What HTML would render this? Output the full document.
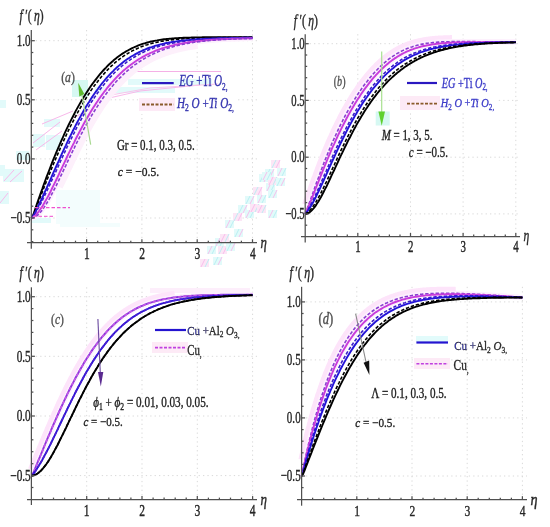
<!DOCTYPE html>
<html><head><meta charset="utf-8"><style>
html,body{margin:0;padding:0;background:#fff;width:550px;height:527px;overflow:hidden}
svg{display:block;filter:contrast(1)}
text{font-family:"Liberation Serif",serif}
</style></head><body>
<svg width="550" height="527" viewBox="0 0 550 527" font-family="Liberation Serif, serif">
<rect width="550" height="527" fill="#fff"/>
<g stroke="#d9d9d9" stroke-width="1" stroke-dasharray="1.3 3.1"><line x1="86.6" y1="30.0" x2="86.6" y2="242.7"/><line x1="141.9" y1="30.0" x2="141.9" y2="242.7"/><line x1="197.2" y1="30.0" x2="197.2" y2="242.7"/><line x1="252.5" y1="30.0" x2="252.5" y2="242.7"/><line x1="31.3" y1="218.0" x2="257.0" y2="218.0"/><line x1="31.3" y1="158.9" x2="257.0" y2="158.9"/><line x1="31.3" y1="99.8" x2="257.0" y2="99.8"/><line x1="31.3" y1="40.7" x2="257.0" y2="40.7"/></g>
<rect x="138" y="70" width="98" height="44" fill="#fff"/>
<g stroke="#d9d9d9" stroke-width="1" stroke-dasharray="1.3 3.1"><line x1="357.8" y1="34.2" x2="357.8" y2="236.5"/><line x1="410.5" y1="34.2" x2="410.5" y2="236.5"/><line x1="463.1" y1="34.2" x2="463.1" y2="236.5"/><line x1="515.8" y1="34.2" x2="515.8" y2="236.5"/><line x1="305.2" y1="213.9" x2="520.0" y2="213.9"/><line x1="305.2" y1="157.2" x2="520.0" y2="157.2"/><line x1="305.2" y1="100.4" x2="520.0" y2="100.4"/><line x1="305.2" y1="43.7" x2="520.0" y2="43.7"/></g>
<rect x="403" y="72" width="94" height="40" fill="#fff"/>
<g stroke="#d9d9d9" stroke-width="1" stroke-dasharray="1.3 3.1"><line x1="86.7" y1="287.3" x2="86.7" y2="499.6"/><line x1="142.0" y1="287.3" x2="142.0" y2="499.6"/><line x1="197.3" y1="287.3" x2="197.3" y2="499.6"/><line x1="252.6" y1="287.3" x2="252.6" y2="499.6"/><line x1="31.4" y1="475.6" x2="257.0" y2="475.6"/><line x1="31.4" y1="416.0" x2="257.0" y2="416.0"/><line x1="31.4" y1="356.3" x2="257.0" y2="356.3"/><line x1="31.4" y1="296.7" x2="257.0" y2="296.7"/></g>
<g stroke="#d9d9d9" stroke-width="1" stroke-dasharray="1.3 3.1"><line x1="356.8" y1="286.8" x2="356.8" y2="499.7"/><line x1="412.0" y1="286.8" x2="412.0" y2="499.7"/><line x1="467.2" y1="286.8" x2="467.2" y2="499.7"/><line x1="522.4" y1="286.8" x2="522.4" y2="499.7"/><line x1="301.6" y1="476.0" x2="527.0" y2="476.0"/><line x1="301.6" y1="417.9" x2="527.0" y2="417.9"/><line x1="301.6" y1="359.9" x2="527.0" y2="359.9"/><line x1="301.6" y1="301.9" x2="527.0" y2="301.9"/></g>
<g><rect x="0" y="165" width="5" height="11" fill="#e2fafa"/><rect x="3" y="169" width="21" height="13" fill="#e2fafa"/><rect x="0" y="191" width="9" height="13" fill="#e2fafa"/><rect x="0" y="100" width="6" height="8" fill="#e2fafa"/><path d="M4,181 L14,170" fill="none" stroke="#f8b8ea" stroke-width="1.0"/><path d="M10,182 L22,171" fill="none" stroke="#f8b8ea" stroke-width="1.0"/><path d="M0,203 L8,193" fill="none" stroke="#f8b8ea" stroke-width="1.0"/><rect x="44" y="119" width="16" height="8" fill="#e2fafa"/><rect x="46" y="135" width="15" height="15" fill="#e2fafa"/><rect x="33" y="134" width="12" height="13" fill="#e2fafa"/><rect x="16" y="151" width="13" height="9" fill="#e2fafa"/><rect x="72" y="80" width="16" height="17" fill="#d6f8f2"/><path d="M33,143 L60,122" fill="none" stroke="#f8b8ea" stroke-width="1.0"/><path d="M42,124 L73,111" fill="none" stroke="#f8b8ea" stroke-width="1.0"/><path d="M36,150 L62,131" fill="none" stroke="#f8b8ea" stroke-width="1.0"/><path d="M73,118 L100,104" fill="none" stroke="#f8b8ea" stroke-width="1.2"/><path d="M131,71.5 L221,71.5" fill="none" stroke="#f5b0e6" stroke-width="1.0"/><rect x="128" y="79" width="84" height="6" fill="#e2fafa"/><rect x="95" y="87" width="80" height="6" fill="#e2fafa"/><path d="M96,101 L140,91 L200,85" fill="none" stroke="#f8b8ea" stroke-width="1.0"/><path d="M100,97 L150,88 L218,84" fill="none" stroke="#f8c4ec" stroke-width="1.0"/><rect x="139" y="98" width="36" height="13" fill="#fdeaf6"/><rect x="31" y="218" width="20" height="5" fill="#e2fafa"/><rect x="56" y="190" width="44" height="34" fill="#f3fdfd"/><rect x="60" y="223" width="60" height="4" fill="#f3fdfd"/><rect x="200" y="259" width="9" height="8" fill="#fce6f6"/><path d="M201,267 L205,259" fill="none" stroke="#f8b8ea" stroke-width="0.9"/><path d="M205,267 L209,259" fill="none" stroke="#b4eef2" stroke-width="0.9"/><rect x="213" y="257" width="9" height="8" fill="#e2fafa"/><path d="M214,265 L218,257" fill="none" stroke="#b4eef2" stroke-width="0.9"/><path d="M218,265 L222,257" fill="none" stroke="#f8b8ea" stroke-width="0.9"/><rect x="207" y="246" width="9" height="8" fill="#e2fafa"/><path d="M208,254 L212,246" fill="none" stroke="#f8b8ea" stroke-width="0.9"/><path d="M212,254 L216,246" fill="none" stroke="#b4eef2" stroke-width="0.9"/><rect x="218" y="246" width="9" height="8" fill="#fce6f6"/><path d="M219,254 L223,246" fill="none" stroke="#b4eef2" stroke-width="0.9"/><path d="M223,254 L227,246" fill="none" stroke="#f8b8ea" stroke-width="0.9"/><rect x="215" y="238" width="9" height="8" fill="#e2fafa"/><path d="M216,246 L220,238" fill="none" stroke="#f8b8ea" stroke-width="0.9"/><path d="M220,246 L224,238" fill="none" stroke="#b4eef2" stroke-width="0.9"/><rect x="226" y="243" width="9" height="8" fill="#e2fafa"/><path d="M227,251 L231,243" fill="none" stroke="#b4eef2" stroke-width="0.9"/><path d="M231,251 L235,243" fill="none" stroke="#f8b8ea" stroke-width="0.9"/><rect x="220" y="234" width="9" height="8" fill="#fce6f6"/><path d="M221,242 L225,234" fill="none" stroke="#f8b8ea" stroke-width="0.9"/><path d="M225,242 L229,234" fill="none" stroke="#b4eef2" stroke-width="0.9"/><rect x="234" y="229" width="9" height="8" fill="#e2fafa"/><path d="M235,237 L239,229" fill="none" stroke="#b4eef2" stroke-width="0.9"/><path d="M239,237 L243,229" fill="none" stroke="#f8b8ea" stroke-width="0.9"/><rect x="225" y="220" width="9" height="8" fill="#e2fafa"/><path d="M226,228 L230,220" fill="none" stroke="#f8b8ea" stroke-width="0.9"/><path d="M230,228 L234,220" fill="none" stroke="#b4eef2" stroke-width="0.9"/><rect x="233" y="213" width="9" height="8" fill="#fce6f6"/><path d="M234,221 L238,213" fill="none" stroke="#b4eef2" stroke-width="0.9"/><path d="M238,221 L242,213" fill="none" stroke="#f8b8ea" stroke-width="0.9"/><rect x="245" y="210" width="9" height="8" fill="#e2fafa"/><path d="M246,218 L250,210" fill="none" stroke="#f8b8ea" stroke-width="0.9"/><path d="M250,218 L254,210" fill="none" stroke="#b4eef2" stroke-width="0.9"/><rect x="238" y="205" width="9" height="8" fill="#e2fafa"/><path d="M239,213 L243,205" fill="none" stroke="#b4eef2" stroke-width="0.9"/><path d="M243,213 L247,205" fill="none" stroke="#f8b8ea" stroke-width="0.9"/><rect x="250" y="204" width="9" height="8" fill="#fce6f6"/><path d="M251,212 L255,204" fill="none" stroke="#f8b8ea" stroke-width="0.9"/><path d="M255,212 L259,204" fill="none" stroke="#b4eef2" stroke-width="0.9"/><rect x="245" y="196" width="9" height="8" fill="#e2fafa"/><path d="M246,204 L250,196" fill="none" stroke="#b4eef2" stroke-width="0.9"/><path d="M250,204 L254,196" fill="none" stroke="#f8b8ea" stroke-width="0.9"/><rect x="257" y="195" width="9" height="8" fill="#e2fafa"/><path d="M258,203 L262,195" fill="none" stroke="#f8b8ea" stroke-width="0.9"/><path d="M262,203 L266,195" fill="none" stroke="#b4eef2" stroke-width="0.9"/><rect x="253" y="187" width="9" height="8" fill="#fce6f6"/><path d="M254,195 L258,187" fill="none" stroke="#b4eef2" stroke-width="0.9"/><path d="M258,195 L262,187" fill="none" stroke="#f8b8ea" stroke-width="0.9"/><rect x="266" y="183" width="9" height="8" fill="#e2fafa"/><path d="M267,191 L271,183" fill="none" stroke="#f8b8ea" stroke-width="0.9"/><path d="M271,191 L275,183" fill="none" stroke="#b4eef2" stroke-width="0.9"/><rect x="259" y="174" width="9" height="8" fill="#e2fafa"/><path d="M260,182 L264,174" fill="none" stroke="#b4eef2" stroke-width="0.9"/><path d="M264,182 L268,174" fill="none" stroke="#f8b8ea" stroke-width="0.9"/><rect x="268" y="177" width="9" height="8" fill="#fce6f6"/><path d="M269,185 L273,177" fill="none" stroke="#f8b8ea" stroke-width="0.9"/><path d="M273,185 L277,177" fill="none" stroke="#b4eef2" stroke-width="0.9"/><rect x="265" y="169" width="9" height="8" fill="#e2fafa"/><path d="M266,177 L270,169" fill="none" stroke="#b4eef2" stroke-width="0.9"/><path d="M270,177 L274,169" fill="none" stroke="#f8b8ea" stroke-width="0.9"/><rect x="277" y="168" width="9" height="8" fill="#e2fafa"/><path d="M278,176 L282,168" fill="none" stroke="#f8b8ea" stroke-width="0.9"/><path d="M282,176 L286,168" fill="none" stroke="#b4eef2" stroke-width="0.9"/><rect x="271" y="160" width="9" height="8" fill="#fce6f6"/><path d="M272,168 L276,160" fill="none" stroke="#b4eef2" stroke-width="0.9"/><path d="M276,168 L280,160" fill="none" stroke="#f8b8ea" stroke-width="0.9"/><rect x="262" y="172" width="9" height="8" fill="#e2fafa"/><path d="M263,180 L267,172" fill="none" stroke="#f8b8ea" stroke-width="0.9"/><path d="M267,180 L271,172" fill="none" stroke="#b4eef2" stroke-width="0.9"/><rect x="268" y="190" width="9" height="8" fill="#e2fafa"/><path d="M269,198 L273,190" fill="none" stroke="#b4eef2" stroke-width="0.9"/><path d="M273,198 L277,190" fill="none" stroke="#f8b8ea" stroke-width="0.9"/><rect x="257" y="205" width="9" height="8" fill="#fce6f6"/><path d="M258,213 L262,205" fill="none" stroke="#f8b8ea" stroke-width="0.9"/><path d="M262,213 L266,205" fill="none" stroke="#b4eef2" stroke-width="0.9"/><rect x="276" y="178" width="9" height="8" fill="#e2fafa"/><path d="M277,186 L281,178" fill="none" stroke="#b4eef2" stroke-width="0.9"/><path d="M281,186 L285,178" fill="none" stroke="#f8b8ea" stroke-width="0.9"/><rect x="268" y="210" width="9" height="8" fill="#e2fafa"/><path d="M269,218 L273,210" fill="none" stroke="#f8b8ea" stroke-width="0.9"/><path d="M273,218 L277,210" fill="none" stroke="#b4eef2" stroke-width="0.9"/><rect x="400" y="96" width="40" height="14" fill="#fdeaf6"/><rect x="375.7" y="111.5" width="14" height="14" fill="#d6f8f2"/><rect x="150" y="288" width="100" height="5" fill="#fdeefb"/><rect x="152" y="342" width="36" height="11" fill="#fdeaf6"/><rect x="416" y="336" width="32" height="6" fill="#e2fbfb"/><rect x="414" y="358" width="36" height="11" fill="#fdeaf6"/></g>
<path d="M59.8 187.3L60.3 186.2L60.9 185.0L61.4 183.9L62.0 182.8L62.6 181.6L63.1 180.4L63.7 179.3L64.2 178.1L64.8 177.0L65.3 175.8L65.9 174.6L66.4 173.5L67.0 172.3L67.5 171.1L68.1 170.0L68.6 168.8L69.2 167.6L69.8 166.5L70.3 165.3L70.9 164.1L71.4 163.0L72.0 161.8L72.5 160.7L73.1 159.5L73.6 158.4L74.2 157.2L74.7 156.1L75.3 154.9L75.8 153.8L76.4 152.7L76.9 151.5L77.5 150.4L78.0 149.3L78.6 148.2L79.1 147.1L79.7 146.0L80.2 144.9L80.8 143.8L81.3 142.7L81.9 141.6L82.4 140.5L83.0 139.5L83.5 138.4L84.1 137.4L84.6 136.3L85.2 135.3L85.7 134.2L86.3 133.2L86.8 132.2L87.4 131.2L87.9 130.1L88.4 129.1L89.0 128.1L89.5 127.2L90.1 126.2L90.6 125.2L91.2 124.2L91.7 123.3L92.3 122.3L92.8 121.4L93.4 120.4L93.9 119.5L94.5 118.6L95.0 117.7L95.6 116.7L96.1 115.8L96.6 115.0L97.2 114.1L97.7 113.2L98.3 112.3L98.8 111.5L99.4 110.6L99.9 109.7L100.5 108.9L101.0 108.1L101.5 107.2L102.1 106.4L102.6 105.6L103.2 104.8L103.7 104.0L104.3 103.2L104.8 102.5L105.4 101.7L105.9 100.9L106.4 100.2L107.0 99.4L107.5 98.7L108.1 97.9L108.6 97.2L109.1 96.5L109.7 95.8L110.2 95.1L110.8 94.4L111.3 93.7L111.9 93.0L112.4 92.3L112.9 91.6L113.5 91.0L114.0 90.3L114.6 89.7L115.1 89.0L115.6 88.4L116.2 87.8L116.7 87.1L117.3 86.5L117.8 85.9L118.3 85.3L118.9 84.7L119.4 84.1L119.9 83.6L120.5 83.0L121.0 82.4L121.6 81.8L122.1 81.3L122.6 80.7L123.2 80.2L123.7 79.7L124.2 79.1L124.8 78.6L125.3 78.1L125.8 77.6L126.4 77.1L126.9 76.6L127.5 76.1L128.0 75.6L128.5 75.1L129.1 74.6L129.6 74.2L130.1 73.7L130.7 73.3L131.2 72.8L131.7 72.4L132.3 71.9L132.8 71.5L133.3 71.0L133.9 70.6L134.4 70.2L134.9 69.8L135.5 69.4L136.0 69.0L136.5 68.6L137.1 68.2L137.6 67.8L138.1 67.4L138.7 67.0L139.2 66.6L139.7 66.3L140.3 65.9L140.8 65.6L141.3 65.2L141.9 64.8L142.4 64.5L142.9 64.2L143.5 63.8L144.0 63.5L144.5 63.2L145.1 62.8L145.6 62.5L146.1 62.2L146.7 61.9L147.2 61.6L147.7 61.3L148.3 61.0L148.8 60.7L149.3 60.4L149.9 60.1L150.4 59.8L150.9 59.5L151.5 59.3L152.0 59.0L152.5 58.7L153.1 58.5L153.6 58.2L154.1 57.9L154.7 57.7L155.2 57.4L155.7 57.2L156.3 56.9L156.8 56.7L157.3 56.5L157.9 56.2L158.4 56.0L158.9 55.8L159.5 55.6L160.0 55.3L160.5 55.1L161.1 54.9L161.6 54.7L162.1 54.5L162.7 54.3L163.2 54.1L163.7 53.9L164.3 53.7L164.8 53.5L165.4 53.3L165.9 53.1L166.4 52.9L167.0 52.7L167.5 52.6L168.0 52.4L168.6 52.2L169.1 52.0L169.6 51.9L170.2 51.7L170.7 51.5L171.2 51.4L171.8 51.2L172.3 51.1L172.9 50.9L173.4 50.8L173.9 50.6L174.5 50.5L175.0 50.3L175.5 50.2L176.1 50.0L176.6 49.9L177.2 49.8L177.7 49.6L178.2 49.5L178.8 49.4L179.3 49.2L179.9 49.1L180.4 49.0L180.9 48.9L181.5 48.7L182.0 48.6L182.6 48.5L183.1 48.4L183.6 48.3L184.2 48.2L184.7 48.0L185.3 47.9L185.8 47.8L186.3 47.7L186.9 47.6L187.4 47.5L188.0 47.4L188.5 47.3L189.0 47.2L189.6 47.1L190.1 47.0L190.7 47.0L191.2 46.9L191.8 46.8L192.3 46.7L192.8 46.6L193.4 46.5L193.9 46.4L194.5 46.4L195.0 46.3L195.6 46.2L196.1 46.1L196.6 46.0L197.2 46.0L197.7 45.9" fill="none" stroke="#fdf0fb" stroke-width="6" stroke-linejoin="round"/>
<path d="M31.3 218.0L32.7 217.6L34.1 216.6L35.4 215.3L36.8 213.8L38.2 212.2L39.6 210.3L41.0 208.3L42.4 206.2L43.7 204.0L45.1 201.6L46.5 199.1L47.9 196.6L49.3 194.0L50.7 191.3L52.0 188.5L53.4 185.7L54.8 182.8L56.2 180.0L57.6 177.1L59.0 174.1L60.3 171.2L61.7 168.3L63.1 165.3L64.5 162.4L65.9 159.5L67.2 156.5L68.6 153.6L70.0 150.8L71.4 147.9L72.8 145.1L74.2 142.3L75.5 139.5L76.9 136.8L78.3 134.1L79.7 131.5L81.1 128.9L82.5 126.3L83.8 123.8L85.2 121.3L86.6 118.8L88.0 116.4L89.4 114.1L90.7 111.8L92.1 109.5L93.5 107.3L94.9 105.2L96.3 103.0L97.7 101.0L99.0 99.0L100.4 97.0L101.8 95.1L103.2 93.2L104.6 91.3L106.0 89.6L107.3 87.8L108.7 86.1L110.1 84.5L111.5 82.9L112.9 81.3L114.2 79.8L115.6 78.3L117.0 76.9L118.4 75.5L119.8 74.1L121.2 72.8L122.5 71.5L123.9 70.3L125.3 69.1L126.7 67.9L128.1 66.8L129.5 65.7L130.8 64.7L132.2 63.7L133.6 62.7L135.0 61.7L136.4 60.8L137.8 59.9L139.1 59.0L140.5 58.2L141.9 57.4L143.3 56.6L144.7 55.9L146.0 55.1L147.4 54.4L148.8 53.8L150.2 53.1L151.6 52.5L153.0 51.9L154.3 51.3L155.7 50.7L157.1 50.2L158.5 49.7L159.9 49.2L161.3 48.7L162.6 48.2L164.0 47.8L165.4 47.4L166.8 47.0L168.2 46.6L169.6 46.2L170.9 45.8L172.3 45.5L173.7 45.1L175.1 44.8L176.5 44.5L177.8 44.2L179.2 43.9L180.6 43.7L182.0 43.4L183.4 43.1L184.8 42.9L186.1 42.7L187.5 42.5L188.9 42.2L190.3 42.0L191.7 41.9L193.1 41.7L194.4 41.5L195.8 41.3L197.2 41.2L198.6 41.0L200.0 40.9L201.3 40.7L202.7 40.6L204.1 40.4L205.5 40.3L206.9 40.2L208.3 40.1L209.6 40.0L211.0 39.9L212.4 39.8L213.8 39.7L215.2 39.6L216.6 39.5L217.9 39.4L219.3 39.4L220.7 39.3L222.1 39.2L223.5 39.1L224.8 39.1L226.2 39.0L227.6 39.0L229.0 38.9L230.4 38.9L231.8 38.8L233.1 38.8L234.5 38.7L235.9 38.7L237.3 38.6L238.7 38.6L240.1 38.5L241.4 38.5L242.8 38.5L244.2 38.4L245.6 38.4L247.0 38.4L248.4 38.4L249.7 38.3L251.1 38.3L252.5 38.3" fill="none" stroke="#fdf0fd" stroke-width="5" stroke-linejoin="round"/>
<path d="M31.3 218.0L32.7 217.9L34.1 217.4L35.4 216.7L36.8 215.8L38.2 214.6L39.6 213.2L41.0 211.6L42.4 209.8L43.7 207.9L45.1 205.8L46.5 203.6L47.9 201.3L49.3 198.9L50.7 196.3L52.0 193.7L53.4 191.1L54.8 188.3L56.2 185.6L57.6 182.7L59.0 179.9L60.3 177.0L61.7 174.1L63.1 171.2L64.5 168.2L65.9 165.3L67.2 162.4L68.6 159.5L70.0 156.6L71.4 153.8L72.8 150.9L74.2 148.1L75.5 145.3L76.9 142.5L78.3 139.8L79.7 137.1L81.1 134.4L82.5 131.8L83.8 129.2L85.2 126.7L86.6 124.2L88.0 121.8L89.4 119.4L90.7 117.0L92.1 114.7L93.5 112.4L94.9 110.2L96.3 108.0L97.7 105.9L99.0 103.8L100.4 101.8L101.8 99.8L103.2 97.8L104.6 95.9L106.0 94.1L107.3 92.3L108.7 90.5L110.1 88.8L111.5 87.1L112.9 85.5L114.2 83.9L115.6 82.3L117.0 80.8L118.4 79.4L119.8 77.9L121.2 76.6L122.5 75.2L123.9 73.9L125.3 72.6L126.7 71.4L128.1 70.2L129.5 69.0L130.8 67.9L132.2 66.8L133.6 65.8L135.0 64.7L136.4 63.8L137.8 62.8L139.1 61.9L140.5 61.0L141.9 60.1L143.3 59.2L144.7 58.4L146.0 57.6L147.4 56.9L148.8 56.1L150.2 55.4L151.6 54.7L153.0 54.1L154.3 53.4L155.7 52.8L157.1 52.2L158.5 51.6L159.9 51.1L161.3 50.5L162.6 50.0L164.0 49.5L165.4 49.1L166.8 48.6L168.2 48.1L169.6 47.7L170.9 47.3L172.3 46.9L173.7 46.5L175.1 46.2L176.5 45.8L177.8 45.5L179.2 45.1L180.6 44.8L182.0 44.5L183.4 44.2L184.8 44.0L186.1 43.7L187.5 43.4L188.9 43.2L190.3 43.0L191.7 42.7L193.1 42.5L194.4 42.3L195.8 42.1L197.2 41.9L198.6 41.7L200.0 41.6L201.3 41.4L202.7 41.2L204.1 41.1L205.5 40.9L206.9 40.8L208.3 40.7L209.6 40.5L211.0 40.4L212.4 40.3L213.8 40.2L215.2 40.1L216.6 40.0L217.9 39.9L219.3 39.8L220.7 39.7L222.1 39.6L223.5 39.5L224.8 39.5L226.2 39.4L227.6 39.3L229.0 39.3L230.4 39.2L231.8 39.1L233.1 39.1L234.5 39.0L235.9 39.0L237.3 38.9L238.7 38.9L240.1 38.8L241.4 38.8L242.8 38.7L244.2 38.7L245.6 38.7L247.0 38.6L248.4 38.6L249.7 38.6L251.1 38.5L252.5 38.5" fill="none" stroke="#fdf0fd" stroke-width="5" stroke-linejoin="round"/>
<path d="M31.3 218.0L32.7 216.1L34.1 212.5L35.4 208.5L36.8 204.4L38.2 200.4L39.6 196.4L41.0 192.4L42.4 188.6L43.7 184.7L45.1 181.0L46.5 177.2L47.9 173.6L49.3 170.0L50.7 166.4L52.0 162.9L53.4 159.4L54.8 156.0L56.2 152.7L57.6 149.4L59.0 146.2L60.3 143.0L61.7 139.8L63.1 136.8L64.5 133.7L65.9 130.7L67.2 127.8L68.6 125.0L70.0 122.1L71.4 119.4L72.8 116.7L74.2 114.0L75.5 111.4L76.9 108.9L78.3 106.4L79.7 103.9L81.1 101.5L82.5 99.2L83.8 96.9L85.2 94.7L86.6 92.5L88.0 90.4L89.4 88.3L90.7 86.3L92.1 84.4L93.5 82.5L94.9 80.6L96.3 78.8L97.7 77.0L99.0 75.3L100.4 73.7L101.8 72.1L103.2 70.5L104.6 69.0L106.0 67.6L107.3 66.2L108.7 64.8L110.1 63.5L111.5 62.2L112.9 61.0L114.2 59.8L115.6 58.7L117.0 57.6L118.4 56.5L119.8 55.5L121.2 54.5L122.5 53.6L123.9 52.7L125.3 51.9L126.7 51.0L128.1 50.3L129.5 49.5L130.8 48.8L132.2 48.1L133.6 47.5L135.0 46.9L136.4 46.3L137.8 45.7L139.1 45.2L140.5 44.7L141.9 44.2L143.3 43.7L144.7 43.3L146.0 42.9L147.4 42.5L148.8 42.1L150.2 41.8L151.6 41.5L153.0 41.2L154.3 40.9L155.7 40.6L157.1 40.4L158.5 40.1L159.9 39.9L161.3 39.7L162.6 39.5L164.0 39.3L165.4 39.2L166.8 39.0L168.2 38.9L169.6 38.7L170.9 38.6L172.3 38.5L173.7 38.4L175.1 38.3L176.5 38.2L177.8 38.1L179.2 38.0L180.6 37.9L182.0 37.9L183.4 37.8L184.8 37.8L186.1 37.7L187.5 37.7L188.9 37.6L190.3 37.6L191.7 37.5L193.1 37.5L194.4 37.5L195.8 37.4L197.2 37.4L198.6 37.4L200.0 37.4L201.3 37.4L202.7 37.3L204.1 37.3L205.5 37.3L206.9 37.3L208.3 37.3L209.6 37.3L211.0 37.3L212.4 37.3L213.8 37.3L215.2 37.3L216.6 37.2L217.9 37.2L219.3 37.2L220.7 37.2L222.1 37.2L223.5 37.2L224.8 37.2L226.2 37.2L227.6 37.2L229.0 37.2L230.4 37.2L231.8 37.2L233.1 37.2L234.5 37.2L235.9 37.2L237.3 37.2L238.7 37.2L240.1 37.2L241.4 37.2L242.8 37.2L244.2 37.2L245.6 37.2L247.0 37.2L248.4 37.2L249.7 37.2L251.1 37.2L252.5 37.2" fill="none" stroke="#000" stroke-width="1.9"/>
<path d="M31.3 218.0L32.7 216.3L34.1 213.2L35.4 209.7L36.8 206.1L38.2 202.5L39.6 198.9L41.0 195.3L42.4 191.8L43.7 188.2L45.1 184.7L46.5 181.2L47.9 177.7L49.3 174.3L50.7 170.9L52.0 167.5L53.4 164.2L54.8 160.9L56.2 157.6L57.6 154.4L59.0 151.2L60.3 148.1L61.7 145.0L63.1 141.9L64.5 138.9L65.9 135.9L67.2 133.0L68.6 130.1L70.0 127.3L71.4 124.5L72.8 121.8L74.2 119.1L75.5 116.5L76.9 113.9L78.3 111.4L79.7 108.9L81.1 106.5L82.5 104.1L83.8 101.8L85.2 99.5L86.6 97.3L88.0 95.1L89.4 93.0L90.7 90.9L92.1 88.9L93.5 86.9L94.9 85.0L96.3 83.2L97.7 81.4L99.0 79.6L100.4 77.9L101.8 76.2L103.2 74.6L104.6 73.1L106.0 71.5L107.3 70.1L108.7 68.7L110.1 67.3L111.5 65.9L112.9 64.7L114.2 63.4L115.6 62.2L117.0 61.1L118.4 60.0L119.8 58.9L121.2 57.8L122.5 56.9L123.9 55.9L125.3 55.0L126.7 54.1L128.1 53.3L129.5 52.4L130.8 51.7L132.2 50.9L133.6 50.2L135.0 49.5L136.4 48.9L137.8 48.3L139.1 47.7L140.5 47.1L141.9 46.6L143.3 46.1L144.7 45.6L146.0 45.1L147.4 44.7L148.8 44.2L150.2 43.8L151.6 43.5L153.0 43.1L154.3 42.8L155.7 42.5L157.1 42.2L158.5 41.9L159.9 41.6L161.3 41.3L162.6 41.1L164.0 40.9L165.4 40.7L166.8 40.5L168.2 40.3L169.6 40.1L170.9 39.9L172.3 39.8L173.7 39.6L175.1 39.5L176.5 39.3L177.8 39.2L179.2 39.1L180.6 39.0L182.0 38.9L183.4 38.8L184.8 38.7L186.1 38.6L187.5 38.5L188.9 38.5L190.3 38.4L191.7 38.3L193.1 38.3L194.4 38.2L195.8 38.1L197.2 38.1L198.6 38.1L200.0 38.0L201.3 38.0L202.7 37.9L204.1 37.9L205.5 37.9L206.9 37.8L208.3 37.8L209.6 37.8L211.0 37.7L212.4 37.7L213.8 37.7L215.2 37.7L216.6 37.7L217.9 37.6L219.3 37.6L220.7 37.6L222.1 37.6L223.5 37.6L224.8 37.6L226.2 37.5L227.6 37.5L229.0 37.5L230.4 37.5L231.8 37.5L233.1 37.5L234.5 37.5L235.9 37.5L237.3 37.5L238.7 37.5L240.1 37.4L241.4 37.4L242.8 37.4L244.2 37.4L245.6 37.4L247.0 37.4L248.4 37.4L249.7 37.4L251.1 37.4L252.5 37.4" fill="none" stroke="#000" stroke-width="1.6" stroke-dasharray="3.4 1.8"/>
<path d="M31.3 218.0L32.7 216.8L34.1 214.5L35.4 211.9L36.8 209.2L38.2 206.3L39.6 203.4L41.0 200.5L42.4 197.5L43.7 194.5L45.1 191.4L46.5 188.3L47.9 185.2L49.3 182.1L50.7 179.0L52.0 175.9L53.4 172.7L54.8 169.6L56.2 166.5L57.6 163.4L59.0 160.3L60.3 157.3L61.7 154.2L63.1 151.2L64.5 148.2L65.9 145.3L67.2 142.4L68.6 139.5L70.0 136.6L71.4 133.8L72.8 131.0L74.2 128.3L75.5 125.6L76.9 123.0L78.3 120.4L79.7 117.9L81.1 115.4L82.5 112.9L83.8 110.5L85.2 108.1L86.6 105.8L88.0 103.6L89.4 101.4L90.7 99.2L92.1 97.1L93.5 95.0L94.9 93.0L96.3 91.1L97.7 89.2L99.0 87.3L100.4 85.5L101.8 83.7L103.2 82.0L104.6 80.3L106.0 78.7L107.3 77.1L108.7 75.6L110.1 74.1L111.5 72.7L112.9 71.3L114.2 69.9L115.6 68.6L117.0 67.3L118.4 66.1L119.8 64.9L121.2 63.8L122.5 62.7L123.9 61.6L125.3 60.6L126.7 59.6L128.1 58.6L129.5 57.7L130.8 56.8L132.2 56.0L133.6 55.2L135.0 54.4L136.4 53.6L137.8 52.9L139.1 52.2L140.5 51.5L141.9 50.9L143.3 50.2L144.7 49.7L146.0 49.1L147.4 48.5L148.8 48.0L150.2 47.5L151.6 47.1L153.0 46.6L154.3 46.2L155.7 45.7L157.1 45.3L158.5 45.0L159.9 44.6L161.3 44.3L162.6 43.9L164.0 43.6L165.4 43.3L166.8 43.0L168.2 42.8L169.6 42.5L170.9 42.3L172.3 42.0L173.7 41.8L175.1 41.6L176.5 41.4L177.8 41.2L179.2 41.0L180.6 40.8L182.0 40.7L183.4 40.5L184.8 40.4L186.1 40.2L187.5 40.1L188.9 40.0L190.3 39.8L191.7 39.7L193.1 39.6L194.4 39.5L195.8 39.4L197.2 39.3L198.6 39.2L200.0 39.1L201.3 39.1L202.7 39.0L204.1 38.9L205.5 38.8L206.9 38.8L208.3 38.7L209.6 38.7L211.0 38.6L212.4 38.5L213.8 38.5L215.2 38.4L216.6 38.4L217.9 38.3L219.3 38.3L220.7 38.3L222.1 38.2L223.5 38.2L224.8 38.2L226.2 38.1L227.6 38.1L229.0 38.1L230.4 38.0L231.8 38.0L233.1 38.0L234.5 38.0L235.9 37.9L237.3 37.9L238.7 37.9L240.1 37.9L241.4 37.9L242.8 37.8L244.2 37.8L245.6 37.8L247.0 37.8L248.4 37.8L249.7 37.8L251.1 37.8L252.5 37.7" fill="none" stroke="#2414d8" stroke-width="1.9"/>
<path d="M31.3 218.0L32.7 217.1L34.1 215.2L35.4 213.0L36.8 210.7L38.2 208.2L39.6 205.6L41.0 203.0L42.4 200.3L43.7 197.5L45.1 194.6L46.5 191.8L47.9 188.8L49.3 185.9L50.7 182.9L52.0 179.9L53.4 176.8L54.8 173.8L56.2 170.8L57.6 167.7L59.0 164.7L60.3 161.7L61.7 158.7L63.1 155.7L64.5 152.7L65.9 149.8L67.2 146.8L68.6 144.0L70.0 141.1L71.4 138.3L72.8 135.5L74.2 132.8L75.5 130.0L76.9 127.4L78.3 124.8L79.7 122.2L81.1 119.6L82.5 117.1L83.8 114.7L85.2 112.3L86.6 110.0L88.0 107.7L89.4 105.4L90.7 103.2L92.1 101.0L93.5 98.9L94.9 96.9L96.3 94.9L97.7 92.9L99.0 91.0L100.4 89.1L101.8 87.3L103.2 85.5L104.6 83.8L106.0 82.1L107.3 80.5L108.7 78.9L110.1 77.4L111.5 75.9L112.9 74.5L114.2 73.0L115.6 71.7L117.0 70.4L118.4 69.1L119.8 67.9L121.2 66.7L122.5 65.5L123.9 64.4L125.3 63.3L126.7 62.2L128.1 61.2L129.5 60.3L130.8 59.3L132.2 58.4L133.6 57.5L135.0 56.7L136.4 55.9L137.8 55.1L139.1 54.4L140.5 53.6L141.9 52.9L143.3 52.3L144.7 51.6L146.0 51.0L147.4 50.4L148.8 49.8L150.2 49.3L151.6 48.8L153.0 48.3L154.3 47.8L155.7 47.3L157.1 46.9L158.5 46.5L159.9 46.1L161.3 45.7L162.6 45.3L164.0 44.9L165.4 44.6L166.8 44.3L168.2 44.0L169.6 43.7L170.9 43.4L172.3 43.1L173.7 42.9L175.1 42.6L176.5 42.4L177.8 42.2L179.2 41.9L180.6 41.7L182.0 41.5L183.4 41.4L184.8 41.2L186.1 41.0L187.5 40.8L188.9 40.7L190.3 40.5L191.7 40.4L193.1 40.3L194.4 40.1L195.8 40.0L197.2 39.9L198.6 39.8L200.0 39.7L201.3 39.6L202.7 39.5L204.1 39.4L205.5 39.3L206.9 39.2L208.3 39.1L209.6 39.1L211.0 39.0L212.4 38.9L213.8 38.9L215.2 38.8L216.6 38.7L217.9 38.7L219.3 38.6L220.7 38.6L222.1 38.5L223.5 38.5L224.8 38.5L226.2 38.4L227.6 38.4L229.0 38.3L230.4 38.3L231.8 38.3L233.1 38.2L234.5 38.2L235.9 38.2L237.3 38.1L238.7 38.1L240.1 38.1L241.4 38.1L242.8 38.0L244.2 38.0L245.6 38.0L247.0 38.0L248.4 38.0L249.7 37.9L251.1 37.9L252.5 37.9" fill="none" stroke="#3a1cc8" stroke-width="1.6" stroke-dasharray="3.4 1.8"/>
<path d="M31.3 218.0L32.7 217.6L34.1 216.6L35.4 215.3L36.8 213.8L38.2 212.2L39.6 210.3L41.0 208.3L42.4 206.2L43.7 204.0L45.1 201.6L46.5 199.1L47.9 196.6L49.3 194.0L50.7 191.3L52.0 188.5L53.4 185.7L54.8 182.8L56.2 180.0L57.6 177.1L59.0 174.1L60.3 171.2L61.7 168.3L63.1 165.3L64.5 162.4L65.9 159.5L67.2 156.5L68.6 153.6L70.0 150.8L71.4 147.9L72.8 145.1L74.2 142.3L75.5 139.5L76.9 136.8L78.3 134.1L79.7 131.5L81.1 128.9L82.5 126.3L83.8 123.8L85.2 121.3L86.6 118.8L88.0 116.4L89.4 114.1L90.7 111.8L92.1 109.5L93.5 107.3L94.9 105.2L96.3 103.0L97.7 101.0L99.0 99.0L100.4 97.0L101.8 95.1L103.2 93.2L104.6 91.3L106.0 89.6L107.3 87.8L108.7 86.1L110.1 84.5L111.5 82.9L112.9 81.3L114.2 79.8L115.6 78.3L117.0 76.9L118.4 75.5L119.8 74.1L121.2 72.8L122.5 71.5L123.9 70.3L125.3 69.1L126.7 67.9L128.1 66.8L129.5 65.7L130.8 64.7L132.2 63.7L133.6 62.7L135.0 61.7L136.4 60.8L137.8 59.9L139.1 59.0L140.5 58.2L141.9 57.4L143.3 56.6L144.7 55.9L146.0 55.1L147.4 54.4L148.8 53.8L150.2 53.1L151.6 52.5L153.0 51.9L154.3 51.3L155.7 50.7L157.1 50.2L158.5 49.7L159.9 49.2L161.3 48.7L162.6 48.2L164.0 47.8L165.4 47.4L166.8 47.0L168.2 46.6L169.6 46.2L170.9 45.8L172.3 45.5L173.7 45.1L175.1 44.8L176.5 44.5L177.8 44.2L179.2 43.9L180.6 43.7L182.0 43.4L183.4 43.1L184.8 42.9L186.1 42.7L187.5 42.5L188.9 42.2L190.3 42.0L191.7 41.9L193.1 41.7L194.4 41.5L195.8 41.3L197.2 41.2L198.6 41.0L200.0 40.9L201.3 40.7L202.7 40.6L204.1 40.4L205.5 40.3L206.9 40.2L208.3 40.1L209.6 40.0L211.0 39.9L212.4 39.8L213.8 39.7L215.2 39.6L216.6 39.5L217.9 39.4L219.3 39.4L220.7 39.3L222.1 39.2L223.5 39.1L224.8 39.1L226.2 39.0L227.6 39.0L229.0 38.9L230.4 38.9L231.8 38.8L233.1 38.8L234.5 38.7L235.9 38.7L237.3 38.6L238.7 38.6L240.1 38.5L241.4 38.5L242.8 38.5L244.2 38.4L245.6 38.4L247.0 38.4L248.4 38.4L249.7 38.3L251.1 38.3L252.5 38.3" fill="none" stroke="#c83cdc" stroke-width="1.9"/>
<path d="M31.3 218.0L32.7 217.9L34.1 217.4L35.4 216.7L36.8 215.8L38.2 214.6L39.6 213.2L41.0 211.6L42.4 209.8L43.7 207.9L45.1 205.8L46.5 203.6L47.9 201.3L49.3 198.9L50.7 196.3L52.0 193.7L53.4 191.1L54.8 188.3L56.2 185.6L57.6 182.7L59.0 179.9L60.3 177.0L61.7 174.1L63.1 171.2L64.5 168.2L65.9 165.3L67.2 162.4L68.6 159.5L70.0 156.6L71.4 153.8L72.8 150.9L74.2 148.1L75.5 145.3L76.9 142.5L78.3 139.8L79.7 137.1L81.1 134.4L82.5 131.8L83.8 129.2L85.2 126.7L86.6 124.2L88.0 121.8L89.4 119.4L90.7 117.0L92.1 114.7L93.5 112.4L94.9 110.2L96.3 108.0L97.7 105.9L99.0 103.8L100.4 101.8L101.8 99.8L103.2 97.8L104.6 95.9L106.0 94.1L107.3 92.3L108.7 90.5L110.1 88.8L111.5 87.1L112.9 85.5L114.2 83.9L115.6 82.3L117.0 80.8L118.4 79.4L119.8 77.9L121.2 76.6L122.5 75.2L123.9 73.9L125.3 72.6L126.7 71.4L128.1 70.2L129.5 69.0L130.8 67.9L132.2 66.8L133.6 65.8L135.0 64.7L136.4 63.8L137.8 62.8L139.1 61.9L140.5 61.0L141.9 60.1L143.3 59.2L144.7 58.4L146.0 57.6L147.4 56.9L148.8 56.1L150.2 55.4L151.6 54.7L153.0 54.1L154.3 53.4L155.7 52.8L157.1 52.2L158.5 51.6L159.9 51.1L161.3 50.5L162.6 50.0L164.0 49.5L165.4 49.1L166.8 48.6L168.2 48.1L169.6 47.7L170.9 47.3L172.3 46.9L173.7 46.5L175.1 46.2L176.5 45.8L177.8 45.5L179.2 45.1L180.6 44.8L182.0 44.5L183.4 44.2L184.8 44.0L186.1 43.7L187.5 43.4L188.9 43.2L190.3 43.0L191.7 42.7L193.1 42.5L194.4 42.3L195.8 42.1L197.2 41.9L198.6 41.7L200.0 41.6L201.3 41.4L202.7 41.2L204.1 41.1L205.5 40.9L206.9 40.8L208.3 40.7L209.6 40.5L211.0 40.4L212.4 40.3L213.8 40.2L215.2 40.1L216.6 40.0L217.9 39.9L219.3 39.8L220.7 39.7L222.1 39.6L223.5 39.5L224.8 39.5L226.2 39.4L227.6 39.3L229.0 39.3L230.4 39.2L231.8 39.1L233.1 39.1L234.5 39.0L235.9 39.0L237.3 38.9L238.7 38.9L240.1 38.8L241.4 38.8L242.8 38.7L244.2 38.7L245.6 38.7L247.0 38.6L248.4 38.6L249.7 38.6L251.1 38.5L252.5 38.5" fill="none" stroke="#8a3ed0" stroke-width="1.6" stroke-dasharray="3.4 1.8"/>
<g stroke="#505050" stroke-width="1.25"><line x1="27.0" y1="242.7" x2="257.0" y2="242.7"/><line x1="31.3" y1="30.0" x2="31.3" y2="248.7"/><line x1="42.4" y1="242.7" x2="42.4" y2="240.7"/><line x1="53.4" y1="242.7" x2="53.4" y2="240.7"/><line x1="64.5" y1="242.7" x2="64.5" y2="240.7"/><line x1="75.5" y1="242.7" x2="75.5" y2="240.7"/><line x1="86.6" y1="242.7" x2="86.6" y2="239.2"/><line x1="97.7" y1="242.7" x2="97.7" y2="240.7"/><line x1="108.7" y1="242.7" x2="108.7" y2="240.7"/><line x1="119.8" y1="242.7" x2="119.8" y2="240.7"/><line x1="130.8" y1="242.7" x2="130.8" y2="240.7"/><line x1="141.9" y1="242.7" x2="141.9" y2="239.2"/><line x1="153.0" y1="242.7" x2="153.0" y2="240.7"/><line x1="164.0" y1="242.7" x2="164.0" y2="240.7"/><line x1="175.1" y1="242.7" x2="175.1" y2="240.7"/><line x1="186.1" y1="242.7" x2="186.1" y2="240.7"/><line x1="197.2" y1="242.7" x2="197.2" y2="239.2"/><line x1="208.3" y1="242.7" x2="208.3" y2="240.7"/><line x1="219.3" y1="242.7" x2="219.3" y2="240.7"/><line x1="230.4" y1="242.7" x2="230.4" y2="240.7"/><line x1="241.4" y1="242.7" x2="241.4" y2="240.7"/><line x1="252.5" y1="242.7" x2="252.5" y2="239.2"/><line x1="31.3" y1="241.6" x2="33.3" y2="241.6"/><line x1="31.3" y1="229.8" x2="33.3" y2="229.8"/><line x1="31.3" y1="218.0" x2="34.8" y2="218.0"/><line x1="31.3" y1="206.2" x2="33.3" y2="206.2"/><line x1="31.3" y1="194.4" x2="33.3" y2="194.4"/><line x1="31.3" y1="182.5" x2="33.3" y2="182.5"/><line x1="31.3" y1="170.7" x2="33.3" y2="170.7"/><line x1="31.3" y1="158.9" x2="34.8" y2="158.9"/><line x1="31.3" y1="147.1" x2="33.3" y2="147.1"/><line x1="31.3" y1="135.3" x2="33.3" y2="135.3"/><line x1="31.3" y1="123.4" x2="33.3" y2="123.4"/><line x1="31.3" y1="111.6" x2="33.3" y2="111.6"/><line x1="31.3" y1="99.8" x2="34.8" y2="99.8"/><line x1="31.3" y1="88.0" x2="33.3" y2="88.0"/><line x1="31.3" y1="76.2" x2="33.3" y2="76.2"/><line x1="31.3" y1="64.3" x2="33.3" y2="64.3"/><line x1="31.3" y1="52.5" x2="33.3" y2="52.5"/><line x1="31.3" y1="40.7" x2="34.8" y2="40.7"/></g>
<path d="M305.1 204.5L305.6 203.0L306.1 201.5L306.6 200.1L307.2 198.6L307.7 197.1L308.2 195.7L308.7 194.2L309.3 192.7L309.8 191.2L310.3 189.7L310.9 188.3L311.4 186.8L311.9 185.3L312.4 183.9L313.0 182.4L313.5 180.9L314.0 179.5L314.5 178.0L315.1 176.6L315.6 175.2L316.1 173.7L316.7 172.3L317.2 170.9L317.7 169.5L318.2 168.1L318.8 166.7L319.3 165.3L319.8 163.9L320.4 162.5L320.9 161.2L321.4 159.8L322.0 158.5L322.5 157.1L323.0 155.8L323.5 154.5L324.1 153.2L324.6 151.9L325.1 150.6L325.7 149.3L326.2 148.0L326.7 146.8L327.2 145.5L327.8 144.3L328.3 143.0L328.8 141.8L329.4 140.6L329.9 139.4L330.4 138.2L331.0 137.0L331.5 135.8L332.0 134.6L332.6 133.5L333.1 132.3L333.6 131.2L334.1 130.0L334.7 128.9L335.2 127.8L335.7 126.7L336.3 125.6L336.8 124.5L337.3 123.4L337.9 122.3L338.4 121.3L338.9 120.2L339.5 119.2L340.0 118.1L340.5 117.1L341.1 116.1L341.6 115.1L342.1 114.1L342.7 113.1L343.2 112.1L343.7 111.1L344.3 110.1L344.8 109.2L345.3 108.2L345.9 107.3L346.4 106.3L346.9 105.4L347.5 104.5L348.0 103.6L348.5 102.7L349.1 101.8L349.6 100.9L350.1 100.0L350.7 99.1L351.2 98.2L351.7 97.4L352.3 96.5L352.8 95.7L353.3 94.8L353.9 94.0L354.4 93.2L354.9 92.4L355.5 91.6L356.0 90.7L356.5 90.0L357.1 89.2L357.6 88.4L358.1 87.6L358.7 86.8L359.2 86.1L359.7 85.3L360.3 84.6L360.8 83.8L361.4 83.1L361.9 82.4L362.4 81.7L363.0 81.0L363.5 80.3L364.0 79.6L364.6 78.9L365.1 78.2L365.6 77.5L366.2 76.9L366.7 76.2L367.3 75.5L367.8 74.9L368.3 74.2L368.9 73.6L369.4 73.0L370.0 72.4L370.5 71.7L371.0 71.1L371.6 70.5L372.1 69.9L372.7 69.4L373.2 68.8L373.7 68.2L374.3 67.6L374.8 67.1L375.4 66.5L375.9 66.0L376.4 65.4L377.0 64.9L377.5 64.4L378.1 63.8L378.6 63.3L379.2 62.8L379.7 62.3L380.2 61.8L380.8 61.3L381.3 60.8L381.9 60.4L382.4 59.9L383.0 59.4L383.5 59.0L384.1 58.5L384.6 58.1L385.1 57.6L385.7 57.2L386.2 56.8L386.8 56.3L387.3 55.9L387.9 55.5L388.4 55.1L389.0 54.7L389.5 54.3L390.1 53.9L390.6 53.6L391.2 53.2L391.7 52.8L392.3 52.5L392.8 52.1L393.4 51.8L393.9 51.4L394.5 51.1L395.0 50.7L395.6 50.4L396.1 50.1L396.7 49.8L397.2 49.5L397.8 49.2L398.3 48.9L398.9 48.6L399.4 48.3L400.0 48.0L400.5 47.7L401.1 47.5L401.6 47.2L402.2 46.9L402.7 46.7L403.3 46.4L403.8 46.2L404.4 46.0L404.9 45.7L405.5 45.5L406.0 45.3L406.6 45.0L407.1 44.8L407.7 44.6L408.2 44.4L408.8 44.2L409.3 44.0L409.9 43.8L410.4 43.6L411.0 43.5L411.5 43.3L412.1 43.1L412.6 42.9L413.2 42.8L413.7 42.6L414.3 42.4L414.8 42.3L415.4 42.1L415.9 42.0L416.5 41.9L417.0 41.7L417.6 41.6L418.1 41.5L418.7 41.3L419.2 41.2L419.8 41.1L420.3 41.0L420.9 40.9L421.4 40.7L421.9 40.6L422.5 40.5L423.0 40.4L423.6 40.3L424.1 40.2L424.7 40.1L425.2 40.1L425.8 40.0L426.3 39.9L426.8 39.8L427.4 39.7L427.9 39.7L428.5 39.6L429.0 39.5L429.6 39.4L430.1 39.4L430.6 39.3L431.2 39.3L431.7 39.2L432.3 39.1L432.8 39.1L433.3 39.0L433.9 39.0L434.4 38.9L434.9 38.9L435.5 38.8L436.0 38.8L436.6 38.8L437.1 38.7L437.6 38.7L438.2 38.6L438.7 38.6L439.2 38.6L439.8 38.5L440.3 38.5L440.9 38.5L441.4 38.4L441.9 38.4L442.5 38.4L443.0 38.4L443.5 38.4L444.1 38.3L444.6 38.3L445.1 38.3L445.7 38.3L446.2 38.3L446.7 38.2L447.3 38.2L447.8 38.2L448.3 38.2L448.9 38.2L449.4 38.2L449.9 38.2L450.4 38.1L451.0 38.1L451.5 38.1L452.0 38.1" fill="none" stroke="#fde4fa" stroke-width="6" stroke-linejoin="round"/>
<path d="M305.2 213.9L306.5 210.7L307.8 207.1L309.1 203.5L310.5 199.8L311.8 196.1L313.1 192.4L314.4 188.7L315.7 185.0L317.0 181.4L318.4 177.8L319.7 174.2L321.0 170.7L322.3 167.2L323.6 163.8L324.9 160.4L326.3 157.1L327.6 153.9L328.9 150.6L330.2 147.5L331.5 144.4L332.8 141.4L334.2 138.4L335.5 135.5L336.8 132.7L338.1 129.9L339.4 127.1L340.7 124.4L342.1 121.8L343.4 119.2L344.7 116.7L346.0 114.2L347.3 111.8L348.6 109.5L350.0 107.1L351.3 104.9L352.6 102.7L353.9 100.5L355.2 98.4L356.5 96.3L357.8 94.3L359.2 92.3L360.5 90.4L361.8 88.5L363.1 86.6L364.4 84.8L365.7 83.1L367.1 81.4L368.4 79.7L369.7 78.1L371.0 76.5L372.3 75.0L373.6 73.5L375.0 72.0L376.3 70.6L377.6 69.2L378.9 67.9L380.2 66.6L381.5 65.4L382.9 64.2L384.2 63.0L385.5 61.9L386.8 60.8L388.1 59.7L389.4 58.7L390.8 57.8L392.1 56.8L393.4 55.9L394.7 55.1L396.0 54.2L397.3 53.4L398.7 52.7L400.0 52.0L401.3 51.3L402.6 50.6L403.9 50.0L405.2 49.4L406.6 48.8L407.9 48.3L409.2 47.8L410.5 47.3L411.8 46.9L413.1 46.4L414.4 46.0L415.8 45.7L417.1 45.3L418.4 45.0L419.7 44.7L421.0 44.4L422.3 44.1L423.7 43.9L425.0 43.6L426.3 43.4L427.6 43.2L428.9 43.0L430.2 42.9L431.6 42.7L432.9 42.6L434.2 42.5L435.5 42.3L436.8 42.2L438.1 42.1L439.5 42.1L440.8 42.0L442.1 41.9L443.4 41.9L444.7 41.8L446.0 41.8L447.4 41.7L448.7 41.7L450.0 41.7L451.3 41.6L452.6 41.6L453.9 41.6L455.3 41.6L456.6 41.6L457.9 41.6L459.2 41.6L460.5 41.6L461.8 41.6L463.1 41.6L464.5 41.6L465.8 41.6L467.1 41.6L468.4 41.6L469.7 41.6L471.0 41.6L472.4 41.6L473.7 41.6L475.0 41.6L476.3 41.6L477.6 41.7L478.9 41.7L480.3 41.7L481.6 41.7L482.9 41.7L484.2 41.7L485.5 41.7L486.8 41.7L488.2 41.7L489.5 41.8L490.8 41.8L492.1 41.8L493.4 41.8L494.7 41.8L496.1 41.8L497.4 41.8L498.7 41.8L500.0 41.8L501.3 41.8L502.6 41.8L504.0 41.8L505.3 41.9L506.6 41.9L507.9 41.9L509.2 41.9L510.5 41.9L511.9 41.9L513.2 41.9L514.5 41.9L515.8 41.9" fill="none" stroke="#fdf0fd" stroke-width="5" stroke-linejoin="round"/>
<path d="M305.2 213.9L306.5 211.2L307.8 208.2L309.1 205.0L310.5 201.8L311.8 198.5L313.1 195.2L314.4 191.9L315.7 188.5L317.0 185.2L318.4 181.8L319.7 178.5L321.0 175.2L322.3 171.9L323.6 168.6L324.9 165.4L326.3 162.2L327.6 159.0L328.9 155.9L330.2 152.8L331.5 149.7L332.8 146.7L334.2 143.8L335.5 140.9L336.8 138.0L338.1 135.2L339.4 132.5L340.7 129.8L342.1 127.1L343.4 124.5L344.7 122.0L346.0 119.5L347.3 117.0L348.6 114.6L350.0 112.2L351.3 109.9L352.6 107.7L353.9 105.5L355.2 103.3L356.5 101.2L357.8 99.1L359.2 97.1L360.5 95.1L361.8 93.1L363.1 91.2L364.4 89.4L365.7 87.6L367.1 85.8L368.4 84.1L369.7 82.4L371.0 80.8L372.3 79.2L373.6 77.7L375.0 76.2L376.3 74.7L377.6 73.3L378.9 71.9L380.2 70.6L381.5 69.3L382.9 68.0L384.2 66.8L385.5 65.6L386.8 64.5L388.1 63.4L389.4 62.3L390.8 61.3L392.1 60.3L393.4 59.4L394.7 58.4L396.0 57.6L397.3 56.7L398.7 55.9L400.0 55.1L401.3 54.4L402.6 53.7L403.9 53.0L405.2 52.4L406.6 51.7L407.9 51.1L409.2 50.6L410.5 50.0L411.8 49.5L413.1 49.1L414.4 48.6L415.8 48.2L417.1 47.8L418.4 47.4L419.7 47.0L421.0 46.6L422.3 46.3L423.7 46.0L425.0 45.7L426.3 45.5L427.6 45.2L428.9 45.0L430.2 44.7L431.6 44.5L432.9 44.3L434.2 44.2L435.5 44.0L436.8 43.8L438.1 43.7L439.5 43.5L440.8 43.4L442.1 43.3L443.4 43.2L444.7 43.1L446.0 43.0L447.4 42.9L448.7 42.8L450.0 42.8L451.3 42.7L452.6 42.6L453.9 42.6L455.3 42.5L456.6 42.5L457.9 42.4L459.2 42.4L460.5 42.4L461.8 42.3L463.1 42.3L464.5 42.3L465.8 42.2L467.1 42.2L468.4 42.2L469.7 42.2L471.0 42.2L472.4 42.1L473.7 42.1L475.0 42.1L476.3 42.1L477.6 42.1L478.9 42.1L480.3 42.1L481.6 42.1L482.9 42.1L484.2 42.0L485.5 42.0L486.8 42.0L488.2 42.0L489.5 42.0L490.8 42.0L492.1 42.0L493.4 42.0L494.7 42.0L496.1 42.0L497.4 42.0L498.7 42.0L500.0 42.0L501.3 42.0L502.6 42.0L504.0 42.0L505.3 42.0L506.6 42.0L507.9 42.0L509.2 42.0L510.5 42.0L511.9 42.0L513.2 42.0L514.5 42.0L515.8 42.0" fill="none" stroke="#fdf0fd" stroke-width="5" stroke-linejoin="round"/>
<path d="M305.2 213.9L306.5 210.7L307.8 207.1L309.1 203.5L310.5 199.8L311.8 196.1L313.1 192.4L314.4 188.7L315.7 185.0L317.0 181.4L318.4 177.8L319.7 174.2L321.0 170.7L322.3 167.2L323.6 163.8L324.9 160.4L326.3 157.1L327.6 153.9L328.9 150.6L330.2 147.5L331.5 144.4L332.8 141.4L334.2 138.4L335.5 135.5L336.8 132.7L338.1 129.9L339.4 127.1L340.7 124.4L342.1 121.8L343.4 119.2L344.7 116.7L346.0 114.2L347.3 111.8L348.6 109.5L350.0 107.1L351.3 104.9L352.6 102.7L353.9 100.5L355.2 98.4L356.5 96.3L357.8 94.3L359.2 92.3L360.5 90.4L361.8 88.5L363.1 86.6L364.4 84.8L365.7 83.1L367.1 81.4L368.4 79.7L369.7 78.1L371.0 76.5L372.3 75.0L373.6 73.5L375.0 72.0L376.3 70.6L377.6 69.2L378.9 67.9L380.2 66.6L381.5 65.4L382.9 64.2L384.2 63.0L385.5 61.9L386.8 60.8L388.1 59.7L389.4 58.7L390.8 57.8L392.1 56.8L393.4 55.9L394.7 55.1L396.0 54.2L397.3 53.4L398.7 52.7L400.0 52.0L401.3 51.3L402.6 50.6L403.9 50.0L405.2 49.4L406.6 48.8L407.9 48.3L409.2 47.8L410.5 47.3L411.8 46.9L413.1 46.4L414.4 46.0L415.8 45.7L417.1 45.3L418.4 45.0L419.7 44.7L421.0 44.4L422.3 44.1L423.7 43.9L425.0 43.6L426.3 43.4L427.6 43.2L428.9 43.0L430.2 42.9L431.6 42.7L432.9 42.6L434.2 42.5L435.5 42.3L436.8 42.2L438.1 42.1L439.5 42.1L440.8 42.0L442.1 41.9L443.4 41.9L444.7 41.8L446.0 41.8L447.4 41.7L448.7 41.7L450.0 41.7L451.3 41.6L452.6 41.6L453.9 41.6L455.3 41.6L456.6 41.6L457.9 41.6L459.2 41.6L460.5 41.6L461.8 41.6L463.1 41.6L464.5 41.6L465.8 41.6L467.1 41.6L468.4 41.6L469.7 41.6L471.0 41.6L472.4 41.6L473.7 41.6L475.0 41.6L476.3 41.6L477.6 41.7L478.9 41.7L480.3 41.7L481.6 41.7L482.9 41.7L484.2 41.7L485.5 41.7L486.8 41.7L488.2 41.7L489.5 41.8L490.8 41.8L492.1 41.8L493.4 41.8L494.7 41.8L496.1 41.8L497.4 41.8L498.7 41.8L500.0 41.8L501.3 41.8L502.6 41.8L504.0 41.8L505.3 41.9L506.6 41.9L507.9 41.9L509.2 41.9L510.5 41.9L511.9 41.9L513.2 41.9L514.5 41.9L515.8 41.9" fill="none" stroke="#8a3ed0" stroke-width="1.6" stroke-dasharray="3.4 1.8"/>
<path d="M305.2 213.9L306.5 211.2L307.8 208.2L309.1 205.0L310.5 201.8L311.8 198.5L313.1 195.2L314.4 191.9L315.7 188.5L317.0 185.2L318.4 181.8L319.7 178.5L321.0 175.2L322.3 171.9L323.6 168.6L324.9 165.4L326.3 162.2L327.6 159.0L328.9 155.9L330.2 152.8L331.5 149.7L332.8 146.7L334.2 143.8L335.5 140.9L336.8 138.0L338.1 135.2L339.4 132.5L340.7 129.8L342.1 127.1L343.4 124.5L344.7 122.0L346.0 119.5L347.3 117.0L348.6 114.6L350.0 112.2L351.3 109.9L352.6 107.7L353.9 105.5L355.2 103.3L356.5 101.2L357.8 99.1L359.2 97.1L360.5 95.1L361.8 93.1L363.1 91.2L364.4 89.4L365.7 87.6L367.1 85.8L368.4 84.1L369.7 82.4L371.0 80.8L372.3 79.2L373.6 77.7L375.0 76.2L376.3 74.7L377.6 73.3L378.9 71.9L380.2 70.6L381.5 69.3L382.9 68.0L384.2 66.8L385.5 65.6L386.8 64.5L388.1 63.4L389.4 62.3L390.8 61.3L392.1 60.3L393.4 59.4L394.7 58.4L396.0 57.6L397.3 56.7L398.7 55.9L400.0 55.1L401.3 54.4L402.6 53.7L403.9 53.0L405.2 52.4L406.6 51.7L407.9 51.1L409.2 50.6L410.5 50.0L411.8 49.5L413.1 49.1L414.4 48.6L415.8 48.2L417.1 47.8L418.4 47.4L419.7 47.0L421.0 46.6L422.3 46.3L423.7 46.0L425.0 45.7L426.3 45.5L427.6 45.2L428.9 45.0L430.2 44.7L431.6 44.5L432.9 44.3L434.2 44.2L435.5 44.0L436.8 43.8L438.1 43.7L439.5 43.5L440.8 43.4L442.1 43.3L443.4 43.2L444.7 43.1L446.0 43.0L447.4 42.9L448.7 42.8L450.0 42.8L451.3 42.7L452.6 42.6L453.9 42.6L455.3 42.5L456.6 42.5L457.9 42.4L459.2 42.4L460.5 42.4L461.8 42.3L463.1 42.3L464.5 42.3L465.8 42.2L467.1 42.2L468.4 42.2L469.7 42.2L471.0 42.2L472.4 42.1L473.7 42.1L475.0 42.1L476.3 42.1L477.6 42.1L478.9 42.1L480.3 42.1L481.6 42.1L482.9 42.1L484.2 42.0L485.5 42.0L486.8 42.0L488.2 42.0L489.5 42.0L490.8 42.0L492.1 42.0L493.4 42.0L494.7 42.0L496.1 42.0L497.4 42.0L498.7 42.0L500.0 42.0L501.3 42.0L502.6 42.0L504.0 42.0L505.3 42.0L506.6 42.0L507.9 42.0L509.2 42.0L510.5 42.0L511.9 42.0L513.2 42.0L514.5 42.0L515.8 42.0" fill="none" stroke="#c83cdc" stroke-width="1.9"/>
<path d="M305.2 213.9L306.5 212.1L307.8 210.0L309.1 207.7L310.5 205.2L311.8 202.7L313.1 200.0L314.4 197.3L315.7 194.5L317.0 191.6L318.4 188.7L319.7 185.8L321.0 182.8L322.3 179.8L323.6 176.8L324.9 173.8L326.3 170.8L327.6 167.7L328.9 164.8L330.2 161.8L331.5 158.8L332.8 155.9L334.2 153.0L335.5 150.1L336.8 147.2L338.1 144.4L339.4 141.7L340.7 138.9L342.1 136.2L343.4 133.6L344.7 131.0L346.0 128.4L347.3 125.9L348.6 123.4L350.0 120.9L351.3 118.6L352.6 116.2L353.9 113.9L355.2 111.7L356.5 109.4L357.8 107.3L359.2 105.2L360.5 103.1L361.8 101.1L363.1 99.1L364.4 97.1L365.7 95.2L367.1 93.4L368.4 91.6L369.7 89.8L371.0 88.1L372.3 86.4L373.6 84.8L375.0 83.2L376.3 81.7L377.6 80.2L378.9 78.7L380.2 77.3L381.5 75.9L382.9 74.6L384.2 73.3L385.5 72.0L386.8 70.8L388.1 69.6L389.4 68.5L390.8 67.3L392.1 66.3L393.4 65.2L394.7 64.2L396.0 63.3L397.3 62.3L398.7 61.4L400.0 60.6L401.3 59.7L402.6 58.9L403.9 58.1L405.2 57.4L406.6 56.7L407.9 56.0L409.2 55.3L410.5 54.7L411.8 54.1L413.1 53.5L414.4 52.9L415.8 52.4L417.1 51.9L418.4 51.4L419.7 51.0L421.0 50.5L422.3 50.1L423.7 49.7L425.0 49.3L426.3 48.9L427.6 48.6L428.9 48.2L430.2 47.9L431.6 47.6L432.9 47.3L434.2 47.0L435.5 46.8L436.8 46.5L438.1 46.3L439.5 46.1L440.8 45.9L442.1 45.7L443.4 45.5L444.7 45.3L446.0 45.1L447.4 44.9L448.7 44.8L450.0 44.6L451.3 44.5L452.6 44.4L453.9 44.2L455.3 44.1L456.6 44.0L457.9 43.9L459.2 43.8L460.5 43.7L461.8 43.6L463.1 43.5L464.5 43.4L465.8 43.4L467.1 43.3L468.4 43.2L469.7 43.2L471.0 43.1L472.4 43.0L473.7 43.0L475.0 42.9L476.3 42.9L477.6 42.8L478.9 42.8L480.3 42.7L481.6 42.7L482.9 42.7L484.2 42.6L485.5 42.6L486.8 42.5L488.2 42.5L489.5 42.5L490.8 42.5L492.1 42.4L493.4 42.4L494.7 42.4L496.1 42.4L497.4 42.3L498.7 42.3L500.0 42.3L501.3 42.3L502.6 42.3L504.0 42.2L505.3 42.2L506.6 42.2L507.9 42.2L509.2 42.2L510.5 42.2L511.9 42.2L513.2 42.2L514.5 42.1L515.8 42.1" fill="none" stroke="#3a1cc8" stroke-width="1.6" stroke-dasharray="3.4 1.8"/>
<path d="M305.2 213.9L306.5 212.5L307.8 210.8L309.1 208.8L310.5 206.8L311.8 204.5L313.1 202.2L314.4 199.7L315.7 197.2L317.0 194.5L318.4 191.8L319.7 189.0L321.0 186.2L322.3 183.3L323.6 180.5L324.9 177.5L326.3 174.6L327.6 171.7L328.9 168.7L330.2 165.8L331.5 162.9L332.8 160.0L334.2 157.1L335.5 154.2L336.8 151.4L338.1 148.6L339.4 145.8L340.7 143.0L342.1 140.3L343.4 137.6L344.7 135.0L346.0 132.4L347.3 129.8L348.6 127.3L350.0 124.8L351.3 122.4L352.6 120.0L353.9 117.7L355.2 115.4L356.5 113.2L357.8 110.9L359.2 108.8L360.5 106.7L361.8 104.6L363.1 102.6L364.4 100.6L365.7 98.7L367.1 96.8L368.4 94.9L369.7 93.2L371.0 91.4L372.3 89.7L373.6 88.0L375.0 86.4L376.3 84.8L377.6 83.3L378.9 81.8L380.2 80.3L381.5 78.9L382.9 77.5L384.2 76.2L385.5 74.9L386.8 73.6L388.1 72.4L389.4 71.2L390.8 70.1L392.1 68.9L393.4 67.9L394.7 66.8L396.0 65.8L397.3 64.8L398.7 63.9L400.0 63.0L401.3 62.1L402.6 61.3L403.9 60.4L405.2 59.7L406.6 58.9L407.9 58.2L409.2 57.5L410.5 56.8L411.8 56.1L413.1 55.5L414.4 54.9L415.8 54.3L417.1 53.8L418.4 53.2L419.7 52.7L421.0 52.2L422.3 51.8L423.7 51.3L425.0 50.9L426.3 50.5L427.6 50.1L428.9 49.7L430.2 49.3L431.6 49.0L432.9 48.7L434.2 48.3L435.5 48.0L436.8 47.7L438.1 47.5L439.5 47.2L440.8 47.0L442.1 46.7L443.4 46.5L444.7 46.3L446.0 46.1L447.4 45.9L448.7 45.7L450.0 45.5L451.3 45.3L452.6 45.1L453.9 45.0L455.3 44.8L456.6 44.7L457.9 44.6L459.2 44.4L460.5 44.3L461.8 44.2L463.1 44.1L464.5 44.0L465.8 43.9L467.1 43.8L468.4 43.7L469.7 43.6L471.0 43.5L472.4 43.4L473.7 43.4L475.0 43.3L476.3 43.2L477.6 43.2L478.9 43.1L480.3 43.0L481.6 43.0L482.9 42.9L484.2 42.9L485.5 42.8L486.8 42.8L488.2 42.7L489.5 42.7L490.8 42.7L492.1 42.6L493.4 42.6L494.7 42.5L496.1 42.5L497.4 42.5L498.7 42.5L500.0 42.4L501.3 42.4L502.6 42.4L504.0 42.4L505.3 42.3L506.6 42.3L507.9 42.3L509.2 42.3L510.5 42.3L511.9 42.2L513.2 42.2L514.5 42.2L515.8 42.2" fill="none" stroke="#2414d8" stroke-width="1.9"/>
<path d="M305.2 213.9L306.5 213.3L307.8 212.3L309.1 211.1L310.5 209.7L311.8 208.1L313.1 206.3L314.4 204.4L315.7 202.3L317.0 200.1L318.4 197.7L319.7 195.3L321.0 192.8L322.3 190.2L323.6 187.5L324.9 184.8L326.3 182.0L327.6 179.2L328.9 176.4L330.2 173.6L331.5 170.7L332.8 167.8L334.2 165.0L335.5 162.1L336.8 159.3L338.1 156.5L339.4 153.7L340.7 150.9L342.1 148.1L343.4 145.4L344.7 142.7L346.0 140.1L347.3 137.5L348.6 134.9L350.0 132.4L351.3 129.9L352.6 127.4L353.9 125.0L355.2 122.6L356.5 120.3L357.8 118.0L359.2 115.8L360.5 113.6L361.8 111.4L363.1 109.3L364.4 107.3L365.7 105.3L367.1 103.3L368.4 101.4L369.7 99.5L371.0 97.7L372.3 95.9L373.6 94.2L375.0 92.5L376.3 90.8L377.6 89.2L378.9 87.6L380.2 86.1L381.5 84.6L382.9 83.2L384.2 81.8L385.5 80.4L386.8 79.1L388.1 77.8L389.4 76.5L390.8 75.3L392.1 74.1L393.4 72.9L394.7 71.8L396.0 70.7L397.3 69.7L398.7 68.7L400.0 67.7L401.3 66.7L402.6 65.8L403.9 64.9L405.2 64.0L406.6 63.2L407.9 62.3L409.2 61.6L410.5 60.8L411.8 60.1L413.1 59.3L414.4 58.7L415.8 58.0L417.1 57.3L418.4 56.7L419.7 56.1L421.0 55.6L422.3 55.0L423.7 54.5L425.0 53.9L426.3 53.4L427.6 53.0L428.9 52.5L430.2 52.1L431.6 51.6L432.9 51.2L434.2 50.8L435.5 50.4L436.8 50.1L438.1 49.7L439.5 49.4L440.8 49.1L442.1 48.7L443.4 48.4L444.7 48.2L446.0 47.9L447.4 47.6L448.7 47.4L450.0 47.1L451.3 46.9L452.6 46.6L453.9 46.4L455.3 46.2L456.6 46.0L457.9 45.8L459.2 45.7L460.5 45.5L461.8 45.3L463.1 45.1L464.5 45.0L465.8 44.8L467.1 44.7L468.4 44.6L469.7 44.4L471.0 44.3L472.4 44.2L473.7 44.1L475.0 44.0L476.3 43.9L477.6 43.8L478.9 43.7L480.3 43.6L481.6 43.5L482.9 43.4L484.2 43.4L485.5 43.3L486.8 43.2L488.2 43.2L489.5 43.1L490.8 43.0L492.1 43.0L493.4 42.9L494.7 42.9L496.1 42.8L497.4 42.8L498.7 42.7L500.0 42.7L501.3 42.6L502.6 42.6L504.0 42.6L505.3 42.5L506.6 42.5L507.9 42.5L509.2 42.4L510.5 42.4L511.9 42.4L513.2 42.4L514.5 42.3L515.8 42.3" fill="none" stroke="#000" stroke-width="1.6" stroke-dasharray="3.4 1.8"/>
<path d="M305.2 213.9L306.5 213.7L307.8 213.3L309.1 212.6L310.5 211.6L311.8 210.4L313.1 209.0L314.4 207.4L315.7 205.6L317.0 203.6L318.4 201.5L319.7 199.3L321.0 197.0L322.3 194.5L323.6 192.0L324.9 189.4L326.3 186.8L327.6 184.1L328.9 181.3L330.2 178.5L331.5 175.7L332.8 172.9L334.2 170.0L335.5 167.2L336.8 164.4L338.1 161.5L339.4 158.7L340.7 155.9L342.1 153.2L343.4 150.4L344.7 147.7L346.0 145.0L347.3 142.4L348.6 139.7L350.0 137.2L351.3 134.6L352.6 132.1L353.9 129.6L355.2 127.2L356.5 124.9L357.8 122.5L359.2 120.2L360.5 118.0L361.8 115.8L363.1 113.7L364.4 111.6L365.7 109.5L367.1 107.5L368.4 105.5L369.7 103.6L371.0 101.7L372.3 99.9L373.6 98.1L375.0 96.4L376.3 94.7L377.6 93.0L378.9 91.4L380.2 89.8L381.5 88.3L382.9 86.8L384.2 85.3L385.5 83.9L386.8 82.5L388.1 81.2L389.4 79.9L390.8 78.6L392.1 77.4L393.4 76.2L394.7 75.0L396.0 73.9L397.3 72.8L398.7 71.7L400.0 70.7L401.3 69.6L402.6 68.7L403.9 67.7L405.2 66.8L406.6 65.9L407.9 65.0L409.2 64.2L410.5 63.4L411.8 62.6L413.1 61.8L414.4 61.1L415.8 60.3L417.1 59.6L418.4 59.0L419.7 58.3L421.0 57.7L422.3 57.1L423.7 56.5L425.0 55.9L426.3 55.4L427.6 54.8L428.9 54.3L430.2 53.8L431.6 53.3L432.9 52.9L434.2 52.4L435.5 52.0L436.8 51.6L438.1 51.2L439.5 50.8L440.8 50.4L442.1 50.0L443.4 49.7L444.7 49.4L446.0 49.0L447.4 48.7L448.7 48.4L450.0 48.1L451.3 47.9L452.6 47.6L453.9 47.4L455.3 47.1L456.6 46.9L457.9 46.6L459.2 46.4L460.5 46.2L461.8 46.0L463.1 45.8L464.5 45.6L465.8 45.5L467.1 45.3L468.4 45.1L469.7 45.0L471.0 44.8L472.4 44.7L473.7 44.6L475.0 44.4L476.3 44.3L477.6 44.2L478.9 44.1L480.3 44.0L481.6 43.9L482.9 43.8L484.2 43.7L485.5 43.6L486.8 43.5L488.2 43.4L489.5 43.3L490.8 43.3L492.1 43.2L493.4 43.1L494.7 43.1L496.1 43.0L497.4 43.0L498.7 42.9L500.0 42.8L501.3 42.8L502.6 42.8L504.0 42.7L505.3 42.7L506.6 42.6L507.9 42.6L509.2 42.6L510.5 42.5L511.9 42.5L513.2 42.5L514.5 42.4L515.8 42.4" fill="none" stroke="#000" stroke-width="1.9"/>
<g stroke="#505050" stroke-width="1.25"><line x1="301.0" y1="236.5" x2="520.0" y2="236.5"/><line x1="305.2" y1="34.2" x2="305.2" y2="242.5"/><line x1="315.7" y1="236.5" x2="315.7" y2="234.5"/><line x1="326.3" y1="236.5" x2="326.3" y2="234.5"/><line x1="336.8" y1="236.5" x2="336.8" y2="234.5"/><line x1="347.3" y1="236.5" x2="347.3" y2="234.5"/><line x1="357.8" y1="236.5" x2="357.8" y2="233.0"/><line x1="368.4" y1="236.5" x2="368.4" y2="234.5"/><line x1="378.9" y1="236.5" x2="378.9" y2="234.5"/><line x1="389.4" y1="236.5" x2="389.4" y2="234.5"/><line x1="400.0" y1="236.5" x2="400.0" y2="234.5"/><line x1="410.5" y1="236.5" x2="410.5" y2="233.0"/><line x1="421.0" y1="236.5" x2="421.0" y2="234.5"/><line x1="431.6" y1="236.5" x2="431.6" y2="234.5"/><line x1="442.1" y1="236.5" x2="442.1" y2="234.5"/><line x1="452.6" y1="236.5" x2="452.6" y2="234.5"/><line x1="463.1" y1="236.5" x2="463.1" y2="233.0"/><line x1="473.7" y1="236.5" x2="473.7" y2="234.5"/><line x1="484.2" y1="236.5" x2="484.2" y2="234.5"/><line x1="494.7" y1="236.5" x2="494.7" y2="234.5"/><line x1="505.3" y1="236.5" x2="505.3" y2="234.5"/><line x1="515.8" y1="236.5" x2="515.8" y2="233.0"/><line x1="305.2" y1="225.2" x2="307.2" y2="225.2"/><line x1="305.2" y1="213.9" x2="308.7" y2="213.9"/><line x1="305.2" y1="202.6" x2="307.2" y2="202.6"/><line x1="305.2" y1="191.2" x2="307.2" y2="191.2"/><line x1="305.2" y1="179.9" x2="307.2" y2="179.9"/><line x1="305.2" y1="168.5" x2="307.2" y2="168.5"/><line x1="305.2" y1="157.2" x2="308.7" y2="157.2"/><line x1="305.2" y1="145.8" x2="307.2" y2="145.8"/><line x1="305.2" y1="134.5" x2="307.2" y2="134.5"/><line x1="305.2" y1="123.1" x2="307.2" y2="123.1"/><line x1="305.2" y1="111.8" x2="307.2" y2="111.8"/><line x1="305.2" y1="100.4" x2="308.7" y2="100.4"/><line x1="305.2" y1="89.0" x2="307.2" y2="89.0"/><line x1="305.2" y1="77.7" x2="307.2" y2="77.7"/><line x1="305.2" y1="66.4" x2="307.2" y2="66.4"/><line x1="305.2" y1="55.0" x2="307.2" y2="55.0"/><line x1="305.2" y1="43.7" x2="308.7" y2="43.7"/></g>
<path d="M30.9 469.4L31.5 468.1L32.0 466.8L32.6 465.5L33.1 464.1L33.7 462.8L34.2 461.4L34.8 460.1L35.4 458.7L35.9 457.4L36.5 456.1L37.0 454.7L37.6 453.4L38.1 452.0L38.7 450.7L39.2 449.4L39.8 448.0L40.3 446.7L40.9 445.4L41.4 444.0L42.0 442.7L42.5 441.4L43.1 440.0L43.7 438.7L44.2 437.4L44.8 436.1L45.3 434.8L45.9 433.5L46.4 432.2L47.0 430.9L47.5 429.6L48.1 428.3L48.6 427.0L49.2 425.7L49.8 424.4L50.3 423.1L50.9 421.8L51.4 420.6L52.0 419.3L52.5 418.0L53.1 416.8L53.6 415.5L54.2 414.2L54.7 413.0L55.3 411.8L55.9 410.5L56.4 409.3L57.0 408.1L57.5 406.8L58.1 405.6L58.6 404.4L59.2 403.2L59.7 402.0L60.3 400.8L60.9 399.6L61.4 398.5L62.0 397.3L62.5 396.1L63.1 394.9L63.6 393.8L64.2 392.6L64.8 391.5L65.3 390.4L65.9 389.2L66.4 388.1L67.0 387.0L67.5 385.9L68.1 384.8L68.6 383.7L69.2 382.6L69.8 381.5L70.3 380.4L70.9 379.3L71.4 378.3L72.0 377.2L72.6 376.2L73.1 375.1L73.7 374.1L74.2 373.1L74.8 372.0L75.3 371.0L75.9 370.0L76.5 369.0L77.0 368.0L77.6 367.1L78.1 366.1L78.7 365.1L79.3 364.2L79.8 363.2L80.4 362.3L80.9 361.3L81.5 360.4L82.1 359.5L82.6 358.5L83.2 357.6L83.7 356.7L84.3 355.8L84.9 355.0L85.4 354.1L86.0 353.2L86.5 352.4L87.1 351.5L87.7 350.7L88.2 349.8L88.8 349.0L89.3 348.2L89.9 347.3L90.5 346.5L91.0 345.7L91.6 344.9L92.2 344.2L92.7 343.4L93.3 342.6L93.8 341.9L94.4 341.1L95.0 340.4L95.5 339.6L96.1 338.9L96.7 338.2L97.2 337.4L97.8 336.7L98.4 336.0L98.9 335.3L99.5 334.7L100.1 334.0L100.6 333.3L101.2 332.6L101.8 332.0L102.3 331.3L102.9 330.7L103.5 330.1L104.0 329.4L104.6 328.8L105.2 328.2L105.7 327.6L106.3 327.0L106.9 326.4L107.4 325.8L108.0 325.2L108.6 324.7L109.1 324.1L109.7 323.6L110.3 323.0L110.8 322.5L111.4 321.9L112.0 321.4L112.5 320.9L113.1 320.4L113.7 319.9L114.3 319.4L114.8 318.9L115.4 318.4L116.0 317.9L116.5 317.4L117.1 316.9L117.7 316.5L118.3 316.0L118.8 315.6L119.4 315.1L120.0 314.7L120.5 314.3L121.1 313.8L121.7 313.4L122.3 313.0L122.8 312.6L123.4 312.2L124.0 311.8L124.6 311.4L125.1 311.0L125.7 310.6L126.3 310.3L126.8 309.9L127.4 309.5L128.0 309.2L128.6 308.8L129.1 308.5L129.7 308.1L130.3 307.8L130.9 307.5L131.4 307.1L132.0 306.8L132.6 306.5L133.2 306.2L133.7 305.9L134.3 305.6L134.9 305.3L135.5 305.0L136.0 304.7L136.6 304.5L137.2 304.2L137.8 303.9L138.3 303.6L138.9 303.4L139.5 303.1L140.0 302.9L140.6 302.6L141.2 302.4L141.8 302.1L142.3 301.9L142.9 301.7L143.5 301.4L144.1 301.2L144.6 301.0L145.2 300.8L145.8 300.6L146.3 300.4L146.9 300.2L147.5 300.0L148.1 299.8L148.6 299.6L149.2 299.4L149.8 299.2L150.4 299.0L150.9 298.8L151.5 298.7L152.1 298.5L152.6 298.3L153.2 298.2L153.8 298.0L154.3 297.8L154.9 297.7L155.5 297.5L156.1 297.4L156.6 297.2L157.2 297.1L157.8 297.0L158.3 296.8L158.9 296.7L159.5 296.6L160.0 296.4L160.6 296.3L161.2 296.2L161.7 296.1L162.3 295.9L162.9 295.8L163.4 295.7L164.0 295.6L164.6 295.5L165.1 295.4L165.7 295.3L166.3 295.2L166.8 295.1L167.4 295.0L168.0 294.9L168.5 294.8L169.1 294.7L169.7 294.6L170.2 294.5L170.8 294.4L171.4 294.3L171.9 294.3L172.5 294.2L173.0 294.1L173.6 294.0L174.2 294.0L174.7 293.9" fill="none" stroke="#fde4fa" stroke-width="6" stroke-linejoin="round"/>
<path d="M31.4 475.6L32.8 473.8L34.2 470.8L35.5 467.5L36.9 464.1L38.3 460.7L39.7 457.4L41.1 454.0L42.5 450.7L43.8 447.4L45.2 444.0L46.6 440.7L48.0 437.4L49.4 434.2L50.8 430.9L52.1 427.7L53.5 424.5L54.9 421.3L56.3 418.2L57.7 415.0L59.0 412.0L60.4 408.9L61.8 405.9L63.2 402.9L64.6 399.9L66.0 397.0L67.3 394.2L68.7 391.3L70.1 388.5L71.5 385.8L72.9 383.1L74.3 380.4L75.6 377.8L77.0 375.3L78.4 372.7L79.8 370.3L81.2 367.8L82.6 365.4L83.9 363.1L85.3 360.8L86.7 358.6L88.1 356.4L89.5 354.3L90.8 352.2L92.2 350.1L93.6 348.1L95.0 346.2L96.4 344.3L97.8 342.5L99.1 340.7L100.5 338.9L101.9 337.2L103.3 335.6L104.7 334.0L106.1 332.4L107.4 330.9L108.8 329.4L110.2 328.0L111.6 326.6L113.0 325.3L114.3 324.0L115.7 322.7L117.1 321.5L118.5 320.3L119.9 319.2L121.3 318.1L122.6 317.1L124.0 316.0L125.4 315.1L126.8 314.1L128.2 313.2L129.6 312.3L130.9 311.5L132.3 310.7L133.7 309.9L135.1 309.1L136.5 308.4L137.9 307.7L139.2 307.1L140.6 306.4L142.0 305.8L143.4 305.3L144.8 304.7L146.1 304.2L147.5 303.7L148.9 303.2L150.3 302.7L151.7 302.3L153.1 301.9L154.4 301.5L155.8 301.1L157.2 300.7L158.6 300.4L160.0 300.0L161.4 299.7L162.7 299.4L164.1 299.1L165.5 298.9L166.9 298.6L168.3 298.4L169.7 298.2L171.0 297.9L172.4 297.7L173.8 297.5L175.2 297.4L176.6 297.2L177.9 297.0L179.3 296.9L180.7 296.7L182.1 296.6L183.5 296.5L184.9 296.3L186.2 296.2L187.6 296.1L189.0 296.0L190.4 295.9L191.8 295.8L193.2 295.7L194.5 295.7L195.9 295.6L197.3 295.5L198.7 295.5L200.1 295.4L201.4 295.3L202.8 295.3L204.2 295.2L205.6 295.2L207.0 295.1L208.4 295.1L209.7 295.1L211.1 295.0L212.5 295.0L213.9 295.0L215.3 294.9L216.7 294.9L218.0 294.9L219.4 294.9L220.8 294.8L222.2 294.8L223.6 294.8L224.9 294.8L226.3 294.8L227.7 294.8L229.1 294.7L230.5 294.7L231.9 294.7L233.2 294.7L234.6 294.7L236.0 294.7L237.4 294.7L238.8 294.7L240.2 294.7L241.5 294.7L242.9 294.7L244.3 294.7L245.7 294.7L247.1 294.6L248.5 294.6L249.8 294.6L251.2 294.6L252.6 294.6" fill="none" stroke="#fdf0fd" stroke-width="5" stroke-linejoin="round"/>
<path d="M31.4 475.6L32.8 473.8L34.2 470.8L35.5 467.5L36.9 464.1L38.3 460.7L39.7 457.4L41.1 454.0L42.5 450.7L43.8 447.4L45.2 444.0L46.6 440.7L48.0 437.4L49.4 434.2L50.8 430.9L52.1 427.7L53.5 424.5L54.9 421.3L56.3 418.2L57.7 415.0L59.0 412.0L60.4 408.9L61.8 405.9L63.2 402.9L64.6 399.9L66.0 397.0L67.3 394.2L68.7 391.3L70.1 388.5L71.5 385.8L72.9 383.1L74.3 380.4L75.6 377.8L77.0 375.3L78.4 372.7L79.8 370.3L81.2 367.8L82.6 365.4L83.9 363.1L85.3 360.8L86.7 358.6L88.1 356.4L89.5 354.3L90.8 352.2L92.2 350.1L93.6 348.1L95.0 346.2L96.4 344.3L97.8 342.5L99.1 340.7L100.5 338.9L101.9 337.2L103.3 335.6L104.7 334.0L106.1 332.4L107.4 330.9L108.8 329.4L110.2 328.0L111.6 326.6L113.0 325.3L114.3 324.0L115.7 322.7L117.1 321.5L118.5 320.3L119.9 319.2L121.3 318.1L122.6 317.1L124.0 316.0L125.4 315.1L126.8 314.1L128.2 313.2L129.6 312.3L130.9 311.5L132.3 310.7L133.7 309.9L135.1 309.1L136.5 308.4L137.9 307.7L139.2 307.1L140.6 306.4L142.0 305.8L143.4 305.3L144.8 304.7L146.1 304.2L147.5 303.7L148.9 303.2L150.3 302.7L151.7 302.3L153.1 301.9L154.4 301.5L155.8 301.1L157.2 300.7L158.6 300.4L160.0 300.0L161.4 299.7L162.7 299.4L164.1 299.1L165.5 298.9L166.9 298.6L168.3 298.4L169.7 298.2L171.0 297.9L172.4 297.7L173.8 297.5L175.2 297.4L176.6 297.2L177.9 297.0L179.3 296.9L180.7 296.7L182.1 296.6L183.5 296.5L184.9 296.3L186.2 296.2L187.6 296.1L189.0 296.0L190.4 295.9L191.8 295.8L193.2 295.7L194.5 295.7L195.9 295.6L197.3 295.5L198.7 295.5L200.1 295.4L201.4 295.3L202.8 295.3L204.2 295.2L205.6 295.2L207.0 295.1L208.4 295.1L209.7 295.1L211.1 295.0L212.5 295.0L213.9 295.0L215.3 294.9L216.7 294.9L218.0 294.9L219.4 294.9L220.8 294.8L222.2 294.8L223.6 294.8L224.9 294.8L226.3 294.8L227.7 294.8L229.1 294.7L230.5 294.7L231.9 294.7L233.2 294.7L234.6 294.7L236.0 294.7L237.4 294.7L238.8 294.7L240.2 294.7L241.5 294.7L242.9 294.7L244.3 294.7L245.7 294.7L247.1 294.6L248.5 294.6L249.8 294.6L251.2 294.6L252.6 294.6" fill="none" stroke="#8a36d8" stroke-width="1.9"/>
<path d="M31.4 475.6L32.8 473.8L34.2 470.8L35.5 467.5L36.9 464.1L38.3 460.7L39.7 457.4L41.1 454.0L42.5 450.7L43.8 447.4L45.2 444.0L46.6 440.7L48.0 437.4L49.4 434.2L50.8 430.9L52.1 427.7L53.5 424.5L54.9 421.3L56.3 418.2L57.7 415.0L59.0 412.0L60.4 408.9L61.8 405.9L63.2 402.9L64.6 399.9L66.0 397.0L67.3 394.2L68.7 391.3L70.1 388.5L71.5 385.8L72.9 383.1L74.3 380.4L75.6 377.8L77.0 375.3L78.4 372.7L79.8 370.3L81.2 367.8L82.6 365.4L83.9 363.1L85.3 360.8L86.7 358.6L88.1 356.4L89.5 354.3L90.8 352.2L92.2 350.1L93.6 348.1L95.0 346.2L96.4 344.3L97.8 342.5L99.1 340.7L100.5 338.9L101.9 337.2L103.3 335.6L104.7 334.0L106.1 332.4L107.4 330.9L108.8 329.4L110.2 328.0L111.6 326.6L113.0 325.3L114.3 324.0L115.7 322.7L117.1 321.5L118.5 320.3L119.9 319.2L121.3 318.1L122.6 317.1L124.0 316.0L125.4 315.1L126.8 314.1L128.2 313.2L129.6 312.3L130.9 311.5L132.3 310.7L133.7 309.9L135.1 309.1L136.5 308.4L137.9 307.7L139.2 307.1L140.6 306.4L142.0 305.8L143.4 305.3L144.8 304.7L146.1 304.2L147.5 303.7L148.9 303.2L150.3 302.7L151.7 302.3L153.1 301.9L154.4 301.5L155.8 301.1L157.2 300.7L158.6 300.4L160.0 300.0L161.4 299.7L162.7 299.4L164.1 299.1L165.5 298.9L166.9 298.6L168.3 298.4L169.7 298.2L171.0 297.9L172.4 297.7L173.8 297.5L175.2 297.4L176.6 297.2L177.9 297.0L179.3 296.9L180.7 296.7L182.1 296.6L183.5 296.5L184.9 296.3L186.2 296.2L187.6 296.1L189.0 296.0L190.4 295.9L191.8 295.8L193.2 295.7L194.5 295.7L195.9 295.6L197.3 295.5L198.7 295.5L200.1 295.4L201.4 295.3L202.8 295.3L204.2 295.2L205.6 295.2L207.0 295.1L208.4 295.1L209.7 295.1L211.1 295.0L212.5 295.0L213.9 295.0L215.3 294.9L216.7 294.9L218.0 294.9L219.4 294.9L220.8 294.8L222.2 294.8L223.6 294.8L224.9 294.8L226.3 294.8L227.7 294.8L229.1 294.7L230.5 294.7L231.9 294.7L233.2 294.7L234.6 294.7L236.0 294.7L237.4 294.7L238.8 294.7L240.2 294.7L241.5 294.7L242.9 294.7L244.3 294.7L245.7 294.7L247.1 294.6L248.5 294.6L249.8 294.6L251.2 294.6L252.6 294.6" fill="none" stroke="#c458e8" stroke-width="1.6" stroke-dasharray="3.4 1.8"/>
<path d="M31.4 475.6L32.8 474.6L34.2 472.9L35.5 470.9L36.9 468.8L38.3 466.6L39.7 464.3L41.1 461.9L42.5 459.5L43.8 457.0L45.2 454.4L46.6 451.8L48.0 449.1L49.4 446.3L50.8 443.6L52.1 440.8L53.5 437.9L54.9 435.1L56.3 432.2L57.7 429.3L59.0 426.4L60.4 423.5L61.8 420.5L63.2 417.6L64.6 414.7L66.0 411.8L67.3 409.0L68.7 406.1L70.1 403.3L71.5 400.4L72.9 397.6L74.3 394.9L75.6 392.2L77.0 389.5L78.4 386.8L79.8 384.2L81.2 381.6L82.6 379.0L83.9 376.5L85.3 374.1L86.7 371.6L88.1 369.3L89.5 366.9L90.8 364.7L92.2 362.4L93.6 360.2L95.0 358.1L96.4 356.0L97.8 354.0L99.1 352.0L100.5 350.0L101.9 348.1L103.3 346.3L104.7 344.5L106.1 342.7L107.4 341.0L108.8 339.3L110.2 337.7L111.6 336.1L113.0 334.6L114.3 333.1L115.7 331.7L117.1 330.3L118.5 328.9L119.9 327.6L121.3 326.4L122.6 325.1L124.0 323.9L125.4 322.8L126.8 321.7L128.2 320.6L129.6 319.6L130.9 318.6L132.3 317.6L133.7 316.6L135.1 315.7L136.5 314.9L137.9 314.0L139.2 313.2L140.6 312.4L142.0 311.7L143.4 311.0L144.8 310.3L146.1 309.6L147.5 309.0L148.9 308.3L150.3 307.7L151.7 307.2L153.1 306.6L154.4 306.1L155.8 305.6L157.2 305.1L158.6 304.6L160.0 304.2L161.4 303.7L162.7 303.3L164.1 302.9L165.5 302.6L166.9 302.2L168.3 301.9L169.7 301.5L171.0 301.2L172.4 300.9L173.8 300.6L175.2 300.3L176.6 300.1L177.9 299.8L179.3 299.6L180.7 299.3L182.1 299.1L183.5 298.9L184.9 298.7L186.2 298.5L187.6 298.3L189.0 298.1L190.4 298.0L191.8 297.8L193.2 297.6L194.5 297.5L195.9 297.4L197.3 297.2L198.7 297.1L200.1 297.0L201.4 296.9L202.8 296.8L204.2 296.6L205.6 296.5L207.0 296.5L208.4 296.4L209.7 296.3L211.1 296.2L212.5 296.1L213.9 296.0L215.3 296.0L216.7 295.9L218.0 295.8L219.4 295.8L220.8 295.7L222.2 295.7L223.6 295.6L224.9 295.6L226.3 295.5L227.7 295.5L229.1 295.4L230.5 295.4L231.9 295.3L233.2 295.3L234.6 295.3L236.0 295.2L237.4 295.2L238.8 295.2L240.2 295.1L241.5 295.1L242.9 295.1L244.3 295.1L245.7 295.0L247.1 295.0L248.5 295.0L249.8 295.0L251.2 295.0L252.6 294.9" fill="none" stroke="#2414d8" stroke-width="1.9"/>
<path d="M31.4 475.6L32.8 474.6L34.2 472.9L35.5 470.9L36.9 468.8L38.3 466.6L39.7 464.3L41.1 461.9L42.5 459.5L43.8 457.0L45.2 454.4L46.6 451.8L48.0 449.1L49.4 446.3L50.8 443.6L52.1 440.8L53.5 437.9L54.9 435.1L56.3 432.2L57.7 429.3L59.0 426.4L60.4 423.5L61.8 420.5L63.2 417.6L64.6 414.7L66.0 411.8L67.3 409.0L68.7 406.1L70.1 403.3L71.5 400.4L72.9 397.6L74.3 394.9L75.6 392.2L77.0 389.5L78.4 386.8L79.8 384.2L81.2 381.6L82.6 379.0L83.9 376.5L85.3 374.1L86.7 371.6L88.1 369.3L89.5 366.9L90.8 364.7L92.2 362.4L93.6 360.2L95.0 358.1L96.4 356.0L97.8 354.0L99.1 352.0L100.5 350.0L101.9 348.1L103.3 346.3L104.7 344.5L106.1 342.7L107.4 341.0L108.8 339.3L110.2 337.7L111.6 336.1L113.0 334.6L114.3 333.1L115.7 331.7L117.1 330.3L118.5 328.9L119.9 327.6L121.3 326.4L122.6 325.1L124.0 323.9L125.4 322.8L126.8 321.7L128.2 320.6L129.6 319.6L130.9 318.6L132.3 317.6L133.7 316.6L135.1 315.7L136.5 314.9L137.9 314.0L139.2 313.2L140.6 312.4L142.0 311.7L143.4 311.0L144.8 310.3L146.1 309.6L147.5 309.0L148.9 308.3L150.3 307.7L151.7 307.2L153.1 306.6L154.4 306.1L155.8 305.6L157.2 305.1L158.6 304.6L160.0 304.2L161.4 303.7L162.7 303.3L164.1 302.9L165.5 302.6L166.9 302.2L168.3 301.9L169.7 301.5L171.0 301.2L172.4 300.9L173.8 300.6L175.2 300.3L176.6 300.1L177.9 299.8L179.3 299.6L180.7 299.3L182.1 299.1L183.5 298.9L184.9 298.7L186.2 298.5L187.6 298.3L189.0 298.1L190.4 298.0L191.8 297.8L193.2 297.6L194.5 297.5L195.9 297.4L197.3 297.2L198.7 297.1L200.1 297.0L201.4 296.9L202.8 296.8L204.2 296.6L205.6 296.5L207.0 296.5L208.4 296.4L209.7 296.3L211.1 296.2L212.5 296.1L213.9 296.0L215.3 296.0L216.7 295.9L218.0 295.8L219.4 295.8L220.8 295.7L222.2 295.7L223.6 295.6L224.9 295.6L226.3 295.5L227.7 295.5L229.1 295.4L230.5 295.4L231.9 295.3L233.2 295.3L234.6 295.3L236.0 295.2L237.4 295.2L238.8 295.2L240.2 295.1L241.5 295.1L242.9 295.1L244.3 295.1L245.7 295.0L247.1 295.0L248.5 295.0L249.8 295.0L251.2 295.0L252.6 294.9" fill="none" stroke="#5020d0" stroke-width="1.6" stroke-dasharray="3.4 1.8"/>
<path d="M31.4 475.6L32.8 475.5L34.2 475.2L35.5 474.6L36.9 473.9L38.3 472.9L39.7 471.8L41.1 470.5L42.5 469.0L43.8 467.4L45.2 465.6L46.6 463.7L48.0 461.7L49.4 459.5L50.8 457.3L52.1 454.9L53.5 452.5L54.9 449.9L56.3 447.3L57.7 444.7L59.0 442.0L60.4 439.2L61.8 436.4L63.2 433.6L64.6 430.7L66.0 427.9L67.3 425.0L68.7 422.1L70.1 419.2L71.5 416.3L72.9 413.4L74.3 410.5L75.6 407.7L77.0 404.8L78.4 402.0L79.8 399.2L81.2 396.5L82.6 393.7L83.9 391.1L85.3 388.4L86.7 385.8L88.1 383.2L89.5 380.7L90.8 378.2L92.2 375.7L93.6 373.3L95.0 371.0L96.4 368.7L97.8 366.4L99.1 364.2L100.5 362.0L101.9 359.9L103.3 357.8L104.7 355.8L106.1 353.9L107.4 351.9L108.8 350.1L110.2 348.2L111.6 346.5L113.0 344.7L114.3 343.1L115.7 341.4L117.1 339.8L118.5 338.3L119.9 336.8L121.3 335.3L122.6 333.9L124.0 332.5L125.4 331.2L126.8 329.9L128.2 328.6L129.6 327.4L130.9 326.2L132.3 325.1L133.7 324.0L135.1 322.9L136.5 321.9L137.9 320.9L139.2 319.9L140.6 318.9L142.0 318.0L143.4 317.1L144.8 316.3L146.1 315.5L147.5 314.7L148.9 313.9L150.3 313.2L151.7 312.5L153.1 311.8L154.4 311.1L155.8 310.5L157.2 309.8L158.6 309.2L160.0 308.7L161.4 308.1L162.7 307.6L164.1 307.1L165.5 306.6L166.9 306.1L168.3 305.6L169.7 305.2L171.0 304.7L172.4 304.3L173.8 303.9L175.2 303.5L176.6 303.2L177.9 302.8L179.3 302.5L180.7 302.2L182.1 301.8L183.5 301.5L184.9 301.2L186.2 301.0L187.6 300.7L189.0 300.4L190.4 300.2L191.8 299.9L193.2 299.7L194.5 299.5L195.9 299.3L197.3 299.1L198.7 298.9L200.1 298.7L201.4 298.5L202.8 298.3L204.2 298.2L205.6 298.0L207.0 297.9L208.4 297.7L209.7 297.6L211.1 297.5L212.5 297.3L213.9 297.2L215.3 297.1L216.7 297.0L218.0 296.9L219.4 296.8L220.8 296.7L222.2 296.6L223.6 296.5L224.9 296.4L226.3 296.3L227.7 296.2L229.1 296.1L230.5 296.1L231.9 296.0L233.2 295.9L234.6 295.9L236.0 295.8L237.4 295.8L238.8 295.7L240.2 295.6L241.5 295.6L242.9 295.5L244.3 295.5L245.7 295.5L247.1 295.4L248.5 295.4L249.8 295.3L251.2 295.3L252.6 295.3" fill="none" stroke="#000" stroke-width="1.9"/>
<path d="M31.4 475.6L32.8 475.5L34.2 475.2L35.5 474.6L36.9 473.9L38.3 472.9L39.7 471.8L41.1 470.5L42.5 469.0L43.8 467.4L45.2 465.6L46.6 463.7L48.0 461.7L49.4 459.5L50.8 457.3L52.1 454.9L53.5 452.5L54.9 449.9L56.3 447.3L57.7 444.7L59.0 442.0L60.4 439.2L61.8 436.4L63.2 433.6L64.6 430.7L66.0 427.9L67.3 425.0L68.7 422.1L70.1 419.2L71.5 416.3L72.9 413.4L74.3 410.5L75.6 407.7L77.0 404.8L78.4 402.0L79.8 399.2L81.2 396.5L82.6 393.7L83.9 391.1L85.3 388.4L86.7 385.8L88.1 383.2L89.5 380.7L90.8 378.2L92.2 375.7L93.6 373.3L95.0 371.0L96.4 368.7L97.8 366.4L99.1 364.2L100.5 362.0L101.9 359.9L103.3 357.8L104.7 355.8L106.1 353.9L107.4 351.9L108.8 350.1L110.2 348.2L111.6 346.5L113.0 344.7L114.3 343.1L115.7 341.4L117.1 339.8L118.5 338.3L119.9 336.8L121.3 335.3L122.6 333.9L124.0 332.5L125.4 331.2L126.8 329.9L128.2 328.6L129.6 327.4L130.9 326.2L132.3 325.1L133.7 324.0L135.1 322.9L136.5 321.9L137.9 320.9L139.2 319.9L140.6 318.9L142.0 318.0L143.4 317.1L144.8 316.3L146.1 315.5L147.5 314.7L148.9 313.9L150.3 313.2L151.7 312.5L153.1 311.8L154.4 311.1L155.8 310.5L157.2 309.8L158.6 309.2L160.0 308.7L161.4 308.1L162.7 307.6L164.1 307.1L165.5 306.6L166.9 306.1L168.3 305.6L169.7 305.2L171.0 304.7L172.4 304.3L173.8 303.9L175.2 303.5L176.6 303.2L177.9 302.8L179.3 302.5L180.7 302.2L182.1 301.8L183.5 301.5L184.9 301.2L186.2 301.0L187.6 300.7L189.0 300.4L190.4 300.2L191.8 299.9L193.2 299.7L194.5 299.5L195.9 299.3L197.3 299.1L198.7 298.9L200.1 298.7L201.4 298.5L202.8 298.3L204.2 298.2L205.6 298.0L207.0 297.9L208.4 297.7L209.7 297.6L211.1 297.5L212.5 297.3L213.9 297.2L215.3 297.1L216.7 297.0L218.0 296.9L219.4 296.8L220.8 296.7L222.2 296.6L223.6 296.5L224.9 296.4L226.3 296.3L227.7 296.2L229.1 296.1L230.5 296.1L231.9 296.0L233.2 295.9L234.6 295.9L236.0 295.8L237.4 295.8L238.8 295.7L240.2 295.6L241.5 295.6L242.9 295.5L244.3 295.5L245.7 295.5L247.1 295.4L248.5 295.4L249.8 295.3L251.2 295.3L252.6 295.3" fill="none" stroke="#000" stroke-width="1.6" stroke-dasharray="3.4 1.8"/>
<g stroke="#505050" stroke-width="1.25"><line x1="27.0" y1="499.6" x2="257.0" y2="499.6"/><line x1="31.4" y1="287.3" x2="31.4" y2="505.0"/><line x1="42.5" y1="499.6" x2="42.5" y2="497.6"/><line x1="53.5" y1="499.6" x2="53.5" y2="497.6"/><line x1="64.6" y1="499.6" x2="64.6" y2="497.6"/><line x1="75.6" y1="499.6" x2="75.6" y2="497.6"/><line x1="86.7" y1="499.6" x2="86.7" y2="496.1"/><line x1="97.8" y1="499.6" x2="97.8" y2="497.6"/><line x1="108.8" y1="499.6" x2="108.8" y2="497.6"/><line x1="119.9" y1="499.6" x2="119.9" y2="497.6"/><line x1="130.9" y1="499.6" x2="130.9" y2="497.6"/><line x1="142.0" y1="499.6" x2="142.0" y2="496.1"/><line x1="153.1" y1="499.6" x2="153.1" y2="497.6"/><line x1="164.1" y1="499.6" x2="164.1" y2="497.6"/><line x1="175.2" y1="499.6" x2="175.2" y2="497.6"/><line x1="186.2" y1="499.6" x2="186.2" y2="497.6"/><line x1="197.3" y1="499.6" x2="197.3" y2="496.1"/><line x1="208.4" y1="499.6" x2="208.4" y2="497.6"/><line x1="219.4" y1="499.6" x2="219.4" y2="497.6"/><line x1="230.5" y1="499.6" x2="230.5" y2="497.6"/><line x1="241.5" y1="499.6" x2="241.5" y2="497.6"/><line x1="252.6" y1="499.6" x2="252.6" y2="496.1"/><line x1="31.4" y1="487.5" x2="33.4" y2="487.5"/><line x1="31.4" y1="475.6" x2="34.9" y2="475.6"/><line x1="31.4" y1="463.7" x2="33.4" y2="463.7"/><line x1="31.4" y1="451.7" x2="33.4" y2="451.7"/><line x1="31.4" y1="439.8" x2="33.4" y2="439.8"/><line x1="31.4" y1="427.9" x2="33.4" y2="427.9"/><line x1="31.4" y1="416.0" x2="34.9" y2="416.0"/><line x1="31.4" y1="404.0" x2="33.4" y2="404.0"/><line x1="31.4" y1="392.1" x2="33.4" y2="392.1"/><line x1="31.4" y1="380.2" x2="33.4" y2="380.2"/><line x1="31.4" y1="368.2" x2="33.4" y2="368.2"/><line x1="31.4" y1="356.3" x2="34.9" y2="356.3"/><line x1="31.4" y1="344.4" x2="33.4" y2="344.4"/><line x1="31.4" y1="332.4" x2="33.4" y2="332.4"/><line x1="31.4" y1="320.5" x2="33.4" y2="320.5"/><line x1="31.4" y1="308.6" x2="33.4" y2="308.6"/><line x1="31.4" y1="296.7" x2="34.9" y2="296.7"/></g>
<path d="M301.5 459.5L302.0 456.9L302.6 454.4L303.2 451.9L303.7 449.4L304.3 447.0L304.8 444.6L305.4 442.2L305.9 439.9L306.5 437.6L307.0 435.3L307.6 433.1L308.1 430.8L308.7 428.6L309.3 426.5L309.8 424.4L310.4 422.3L310.9 420.2L311.5 418.1L312.0 416.1L312.6 414.1L313.1 412.2L313.7 410.2L314.2 408.3L314.8 406.4L315.4 404.6L315.9 402.7L316.5 400.9L317.0 399.1L317.6 397.4L318.1 395.6L318.7 393.9L319.3 392.2L319.8 390.6L320.4 388.9L320.9 387.3L321.5 385.7L322.0 384.2L322.6 382.6L323.2 381.1L323.7 379.6L324.3 378.1L324.8 376.6L325.4 375.2L325.9 373.7L326.5 372.3L327.1 371.0L327.6 369.6L328.2 368.2L328.7 366.9L329.3 365.6L329.9 364.3L330.4 363.1L331.0 361.8L331.5 360.6L332.1 359.3L332.7 358.1L333.2 357.0L333.8 355.8L334.3 354.7L334.9 353.5L335.5 352.4L336.0 351.3L336.6 350.2L337.1 349.2L337.7 348.1L338.3 347.1L338.8 346.1L339.4 345.1L340.0 344.1L340.5 343.1L341.1 342.1L341.7 341.2L342.2 340.2L342.8 339.3L343.3 338.4L343.9 337.5L344.5 336.6L345.0 335.8L345.6 334.9L346.2 334.1L346.7 333.3L347.3 332.5L347.9 331.7L348.4 330.9L349.0 330.1L349.6 329.3L350.1 328.6L350.7 327.8L351.3 327.1L351.9 326.4L352.4 325.7L353.0 325.0L353.6 324.3L354.1 323.6L354.7 322.9L355.3 322.3L355.8 321.6L356.4 321.0L357.0 320.4L357.6 319.8L358.1 319.2L358.7 318.6L359.3 318.0L359.8 317.4L360.4 316.8L361.0 316.3L361.6 315.7L362.1 315.2L362.7 314.7L363.3 314.1L363.9 313.6L364.4 313.1L365.0 312.6L365.6 312.1L366.2 311.7L366.7 311.2L367.3 310.7L367.9 310.3L368.5 309.8L369.0 309.4L369.6 308.9L370.2 308.5L370.8 308.1L371.3 307.7L371.9 307.3L372.5 306.9L373.1 306.5L373.6 306.1L374.2 305.7L374.8 305.4L375.4 305.0L375.9 304.6L376.5 304.3L377.1 303.9L377.7 303.6L378.2 303.3L378.8 302.9L379.4 302.6L380.0 302.3L380.6 302.0L381.1 301.7L381.7 301.4L382.3 301.1L382.9 300.8L383.4 300.6L384.0 300.3L384.6 300.0L385.2 299.7L385.7 299.5L386.3 299.2L386.9 299.0L387.5 298.7L388.0 298.5L388.6 298.3L389.2 298.0L389.8 297.8L390.3 297.6L390.9 297.4L391.5 297.2L392.1 297.0L392.6 296.7L393.2 296.5L393.8 296.4L394.3 296.2L394.9 296.0L395.5 295.8L396.1 295.6L396.6 295.4L397.2 295.3L397.8 295.1L398.3 294.9L398.9 294.8L399.5 294.6L400.1 294.5L400.6 294.3L401.2 294.2L401.8 294.0L402.3 293.9L402.9 293.8L403.5 293.6L404.1 293.5L404.6 293.4L405.2 293.2L405.8 293.1L406.3 293.0L406.9 292.9L407.5 292.8L408.0 292.7L408.6 292.6L409.2 292.4L409.7 292.3L410.3 292.2L410.9 292.1L411.4 292.1L412.0 292.0L412.6 291.9L413.1 291.8L413.7 291.7L414.3 291.6L414.8 291.5L415.4 291.5L416.0 291.4L416.5 291.3L417.1 291.2L417.7 291.2L418.2 291.1L418.8 291.0L419.3 291.0L419.9 290.9L420.5 290.9L421.0 290.8L421.6 290.7L422.2 290.7L422.7 290.6L423.3 290.6L423.9 290.5L424.4 290.5L425.0 290.5L425.5 290.4L426.1 290.4L426.7 290.3L427.2 290.3L427.8 290.3L428.3 290.2L428.9 290.2L429.5 290.2L430.0 290.1L430.6 290.1L431.1 290.1L431.7 290.0L432.3 290.0L432.8 290.0L433.4 290.0L433.9 289.9L434.5 289.9L435.1 289.9L435.6 289.9L436.2 289.9L436.7 289.9L437.3 289.8L437.9 289.8L438.4 289.8L439.0 289.8L439.5 289.8L440.1 289.8L440.7 289.8L441.2 289.8L441.8 289.8L442.3 289.8L442.9 289.7L443.4 289.7L444.0 289.7L444.6 289.7L445.1 289.7L445.7 289.7L446.2 289.7L446.8 289.7L447.3 289.7L447.9 289.8L448.5 289.8L449.0 289.8L449.6 289.8L450.1 289.8L450.7 289.8L451.2 289.8L451.8 289.8L452.4 289.8L452.9 289.8L453.5 289.8L454.0 289.8L454.6 289.8L455.1 289.9L455.7 289.9" fill="none" stroke="#fde4fa" stroke-width="6" stroke-linejoin="round"/>
<path d="M301.6 476.0L303.0 469.5L304.4 462.8L305.7 456.4L307.1 450.2L308.5 444.2L309.9 438.4L311.3 432.8L312.6 427.4L314.0 422.1L315.4 417.0L316.8 412.2L318.2 407.4L319.5 402.9L320.9 398.4L322.3 394.2L323.7 390.1L325.1 386.1L326.4 382.3L327.8 378.6L329.2 375.0L330.6 371.6L332.0 368.3L333.3 365.1L334.7 362.0L336.1 359.1L337.5 356.2L338.9 353.5L340.2 350.8L341.6 348.3L343.0 345.8L344.4 343.4L345.8 341.2L347.1 339.0L348.5 336.9L349.9 334.9L351.3 332.9L352.7 331.0L354.0 329.3L355.4 327.5L356.8 325.9L358.2 324.3L359.6 322.8L360.9 321.3L362.3 319.9L363.7 318.5L365.1 317.2L366.5 316.0L367.8 314.8L369.2 313.7L370.6 312.6L372.0 311.5L373.4 310.5L374.7 309.6L376.1 308.7L377.5 307.8L378.9 307.0L380.3 306.2L381.6 305.4L383.0 304.7L384.4 304.0L385.8 303.3L387.2 302.7L388.5 302.1L389.9 301.5L391.3 301.0L392.7 300.4L394.1 300.0L395.4 299.5L396.8 299.0L398.2 298.6L399.6 298.2L401.0 297.8L402.3 297.5L403.7 297.2L405.1 296.8L406.5 296.5L407.9 296.3L409.2 296.0L410.6 295.7L412.0 295.5L413.4 295.3L414.8 295.1L416.1 294.9L417.5 294.7L418.9 294.6L420.3 294.4L421.7 294.3L423.0 294.1L424.4 294.0L425.8 293.9L427.2 293.8L428.6 293.7L429.9 293.6L431.3 293.6L432.7 293.5L434.1 293.4L435.5 293.4L436.8 293.4L438.2 293.3L439.6 293.3L441.0 293.3L442.4 293.3L443.7 293.2L445.1 293.2L446.5 293.2L447.9 293.3L449.3 293.3L450.6 293.3L452.0 293.3L453.4 293.3L454.8 293.4L456.2 293.4L457.5 293.4L458.9 293.5L460.3 293.5L461.7 293.6L463.1 293.6L464.4 293.7L465.8 293.7L467.2 293.8L468.6 293.8L470.0 293.9L471.3 294.0L472.7 294.0L474.1 294.1L475.5 294.2L476.9 294.2L478.2 294.3L479.6 294.4L481.0 294.5L482.4 294.6L483.8 294.6L485.1 294.7L486.5 294.8L487.9 294.9L489.3 295.0L490.7 295.1L492.0 295.2L493.4 295.3L494.8 295.3L496.2 295.4L497.6 295.5L498.9 295.6L500.3 295.7L501.7 295.8L503.1 295.9L504.5 296.0L505.8 296.1L507.2 296.2L508.6 296.4L510.0 296.5L511.4 296.6L512.7 296.7L514.1 296.8L515.5 296.9L516.9 297.0L518.3 297.1L519.6 297.3L521.0 297.4L522.4 297.5" fill="none" stroke="#fdf0fd" stroke-width="5" stroke-linejoin="round"/>
<path d="M301.6 476.0L303.0 470.2L304.4 464.0L305.7 458.1L307.1 452.2L308.5 446.6L309.9 441.1L311.3 435.8L312.6 430.7L314.0 425.7L315.4 420.9L316.8 416.2L318.2 411.7L319.5 407.3L320.9 403.0L322.3 398.9L323.7 394.9L325.1 391.0L326.4 387.3L327.8 383.7L329.2 380.2L330.6 376.8L332.0 373.5L333.3 370.3L334.7 367.2L336.1 364.3L337.5 361.4L338.9 358.7L340.2 356.0L341.6 353.4L343.0 350.9L344.4 348.5L345.8 346.2L347.1 344.0L348.5 341.8L349.9 339.7L351.3 337.7L352.7 335.8L354.0 333.9L355.4 332.1L356.8 330.4L358.2 328.7L359.6 327.1L360.9 325.6L362.3 324.1L363.7 322.7L365.1 321.3L366.5 320.0L367.8 318.7L369.2 317.5L370.6 316.3L372.0 315.2L373.4 314.1L374.7 313.1L376.1 312.1L377.5 311.2L378.9 310.3L380.3 309.4L381.6 308.6L383.0 307.8L384.4 307.0L385.8 306.3L387.2 305.6L388.5 304.9L389.9 304.3L391.3 303.7L392.7 303.1L394.1 302.5L395.4 302.0L396.8 301.5L398.2 301.0L399.6 300.6L401.0 300.1L402.3 299.7L403.7 299.3L405.1 299.0L406.5 298.6L407.9 298.3L409.2 298.0L410.6 297.7L412.0 297.4L413.4 297.1L414.8 296.9L416.1 296.7L417.5 296.5L418.9 296.2L420.3 296.1L421.7 295.9L423.0 295.7L424.4 295.6L425.8 295.4L427.2 295.3L428.6 295.2L429.9 295.0L431.3 294.9L432.7 294.8L434.1 294.8L435.5 294.7L436.8 294.6L438.2 294.6L439.6 294.5L441.0 294.4L442.4 294.4L443.7 294.4L445.1 294.3L446.5 294.3L447.9 294.3L449.3 294.3L450.6 294.3L452.0 294.3L453.4 294.3L454.8 294.3L456.2 294.3L457.5 294.3L458.9 294.3L460.3 294.4L461.7 294.4L463.1 294.4L464.4 294.4L465.8 294.5L467.2 294.5L468.6 294.6L470.0 294.6L471.3 294.6L472.7 294.7L474.1 294.7L475.5 294.8L476.9 294.8L478.2 294.9L479.6 295.0L481.0 295.0L482.4 295.1L483.8 295.1L485.1 295.2L486.5 295.3L487.9 295.3L489.3 295.4L490.7 295.5L492.0 295.6L493.4 295.6L494.8 295.7L496.2 295.8L497.6 295.9L498.9 295.9L500.3 296.0L501.7 296.1L503.1 296.2L504.5 296.3L505.8 296.4L507.2 296.4L508.6 296.5L510.0 296.6L511.4 296.7L512.7 296.8L514.1 296.9L515.5 297.0L516.9 297.1L518.3 297.2L519.6 297.3L521.0 297.4L522.4 297.5" fill="none" stroke="#fdf0fd" stroke-width="5" stroke-linejoin="round"/>
<path d="M301.6 476.0L303.0 469.5L304.4 462.8L305.7 456.4L307.1 450.2L308.5 444.2L309.9 438.4L311.3 432.8L312.6 427.4L314.0 422.1L315.4 417.0L316.8 412.2L318.2 407.4L319.5 402.9L320.9 398.4L322.3 394.2L323.7 390.1L325.1 386.1L326.4 382.3L327.8 378.6L329.2 375.0L330.6 371.6L332.0 368.3L333.3 365.1L334.7 362.0L336.1 359.1L337.5 356.2L338.9 353.5L340.2 350.8L341.6 348.3L343.0 345.8L344.4 343.4L345.8 341.2L347.1 339.0L348.5 336.9L349.9 334.9L351.3 332.9L352.7 331.0L354.0 329.3L355.4 327.5L356.8 325.9L358.2 324.3L359.6 322.8L360.9 321.3L362.3 319.9L363.7 318.5L365.1 317.2L366.5 316.0L367.8 314.8L369.2 313.7L370.6 312.6L372.0 311.5L373.4 310.5L374.7 309.6L376.1 308.7L377.5 307.8L378.9 307.0L380.3 306.2L381.6 305.4L383.0 304.7L384.4 304.0L385.8 303.3L387.2 302.7L388.5 302.1L389.9 301.5L391.3 301.0L392.7 300.4L394.1 300.0L395.4 299.5L396.8 299.0L398.2 298.6L399.6 298.2L401.0 297.8L402.3 297.5L403.7 297.2L405.1 296.8L406.5 296.5L407.9 296.3L409.2 296.0L410.6 295.7L412.0 295.5L413.4 295.3L414.8 295.1L416.1 294.9L417.5 294.7L418.9 294.6L420.3 294.4L421.7 294.3L423.0 294.1L424.4 294.0L425.8 293.9L427.2 293.8L428.6 293.7L429.9 293.6L431.3 293.6L432.7 293.5L434.1 293.4L435.5 293.4L436.8 293.4L438.2 293.3L439.6 293.3L441.0 293.3L442.4 293.3L443.7 293.2L445.1 293.2L446.5 293.2L447.9 293.3L449.3 293.3L450.6 293.3L452.0 293.3L453.4 293.3L454.8 293.4L456.2 293.4L457.5 293.4L458.9 293.5L460.3 293.5L461.7 293.6L463.1 293.6L464.4 293.7L465.8 293.7L467.2 293.8L468.6 293.8L470.0 293.9L471.3 294.0L472.7 294.0L474.1 294.1L475.5 294.2L476.9 294.2L478.2 294.3L479.6 294.4L481.0 294.5L482.4 294.6L483.8 294.6L485.1 294.7L486.5 294.8L487.9 294.9L489.3 295.0L490.7 295.1L492.0 295.2L493.4 295.3L494.8 295.3L496.2 295.4L497.6 295.5L498.9 295.6L500.3 295.7L501.7 295.8L503.1 295.9L504.5 296.0L505.8 296.1L507.2 296.2L508.6 296.4L510.0 296.5L511.4 296.6L512.7 296.7L514.1 296.8L515.5 296.9L516.9 297.0L518.3 297.1L519.6 297.3L521.0 297.4L522.4 297.5" fill="none" stroke="#8a3ed0" stroke-width="1.6" stroke-dasharray="3.4 1.8"/>
<path d="M301.6 476.0L303.0 470.2L304.4 464.0L305.7 458.1L307.1 452.2L308.5 446.6L309.9 441.1L311.3 435.8L312.6 430.7L314.0 425.7L315.4 420.9L316.8 416.2L318.2 411.7L319.5 407.3L320.9 403.0L322.3 398.9L323.7 394.9L325.1 391.0L326.4 387.3L327.8 383.7L329.2 380.2L330.6 376.8L332.0 373.5L333.3 370.3L334.7 367.2L336.1 364.3L337.5 361.4L338.9 358.7L340.2 356.0L341.6 353.4L343.0 350.9L344.4 348.5L345.8 346.2L347.1 344.0L348.5 341.8L349.9 339.7L351.3 337.7L352.7 335.8L354.0 333.9L355.4 332.1L356.8 330.4L358.2 328.7L359.6 327.1L360.9 325.6L362.3 324.1L363.7 322.7L365.1 321.3L366.5 320.0L367.8 318.7L369.2 317.5L370.6 316.3L372.0 315.2L373.4 314.1L374.7 313.1L376.1 312.1L377.5 311.2L378.9 310.3L380.3 309.4L381.6 308.6L383.0 307.8L384.4 307.0L385.8 306.3L387.2 305.6L388.5 304.9L389.9 304.3L391.3 303.7L392.7 303.1L394.1 302.5L395.4 302.0L396.8 301.5L398.2 301.0L399.6 300.6L401.0 300.1L402.3 299.7L403.7 299.3L405.1 299.0L406.5 298.6L407.9 298.3L409.2 298.0L410.6 297.7L412.0 297.4L413.4 297.1L414.8 296.9L416.1 296.7L417.5 296.5L418.9 296.2L420.3 296.1L421.7 295.9L423.0 295.7L424.4 295.6L425.8 295.4L427.2 295.3L428.6 295.2L429.9 295.0L431.3 294.9L432.7 294.8L434.1 294.8L435.5 294.7L436.8 294.6L438.2 294.6L439.6 294.5L441.0 294.4L442.4 294.4L443.7 294.4L445.1 294.3L446.5 294.3L447.9 294.3L449.3 294.3L450.6 294.3L452.0 294.3L453.4 294.3L454.8 294.3L456.2 294.3L457.5 294.3L458.9 294.3L460.3 294.4L461.7 294.4L463.1 294.4L464.4 294.4L465.8 294.5L467.2 294.5L468.6 294.6L470.0 294.6L471.3 294.6L472.7 294.7L474.1 294.7L475.5 294.8L476.9 294.8L478.2 294.9L479.6 295.0L481.0 295.0L482.4 295.1L483.8 295.1L485.1 295.2L486.5 295.3L487.9 295.3L489.3 295.4L490.7 295.5L492.0 295.6L493.4 295.6L494.8 295.7L496.2 295.8L497.6 295.9L498.9 295.9L500.3 296.0L501.7 296.1L503.1 296.2L504.5 296.3L505.8 296.4L507.2 296.4L508.6 296.5L510.0 296.6L511.4 296.7L512.7 296.8L514.1 296.9L515.5 297.0L516.9 297.1L518.3 297.2L519.6 297.3L521.0 297.4L522.4 297.5" fill="none" stroke="#c83cdc" stroke-width="1.9"/>
<path d="M301.6 476.0L303.0 471.4L304.4 466.1L305.7 460.9L307.1 455.8L308.5 450.8L309.9 445.9L311.3 441.1L312.6 436.5L314.0 432.0L315.4 427.5L316.8 423.2L318.2 419.0L319.5 414.9L320.9 410.9L322.3 407.0L323.7 403.2L325.1 399.5L326.4 395.9L327.8 392.4L329.2 389.0L330.6 385.7L332.0 382.5L333.3 379.4L334.7 376.3L336.1 373.4L337.5 370.5L338.9 367.7L340.2 365.0L341.6 362.3L343.0 359.8L344.4 357.3L345.8 354.9L347.1 352.6L348.5 350.3L349.9 348.2L351.3 346.0L352.7 344.0L354.0 342.0L355.4 340.1L356.8 338.2L358.2 336.4L359.6 334.7L360.9 333.0L362.3 331.4L363.7 329.9L365.1 328.4L366.5 326.9L367.8 325.5L369.2 324.1L370.6 322.8L372.0 321.6L373.4 320.4L374.7 319.2L376.1 318.1L377.5 317.0L378.9 316.0L380.3 315.0L381.6 314.0L383.0 313.1L384.4 312.2L385.8 311.4L387.2 310.6L388.5 309.8L389.9 309.0L391.3 308.3L392.7 307.6L394.1 307.0L395.4 306.3L396.8 305.7L398.2 305.2L399.6 304.6L401.0 304.1L402.3 303.6L403.7 303.1L405.1 302.7L406.5 302.2L407.9 301.8L409.2 301.4L410.6 301.1L412.0 300.7L413.4 300.4L414.8 300.0L416.1 299.7L417.5 299.5L418.9 299.2L420.3 298.9L421.7 298.7L423.0 298.5L424.4 298.2L425.8 298.0L427.2 297.8L428.6 297.7L429.9 297.5L431.3 297.3L432.7 297.2L434.1 297.1L435.5 296.9L436.8 296.8L438.2 296.7L439.6 296.6L441.0 296.5L442.4 296.4L443.7 296.3L445.1 296.3L446.5 296.2L447.9 296.1L449.3 296.1L450.6 296.0L452.0 296.0L453.4 295.9L454.8 295.9L456.2 295.9L457.5 295.9L458.9 295.8L460.3 295.8L461.7 295.8L463.1 295.8L464.4 295.8L465.8 295.8L467.2 295.8L468.6 295.8L470.0 295.8L471.3 295.8L472.7 295.8L474.1 295.9L475.5 295.9L476.9 295.9L478.2 295.9L479.6 295.9L481.0 296.0L482.4 296.0L483.8 296.0L485.1 296.1L486.5 296.1L487.9 296.1L489.3 296.2L490.7 296.2L492.0 296.3L493.4 296.3L494.8 296.3L496.2 296.4L497.6 296.4L498.9 296.5L500.3 296.5L501.7 296.6L503.1 296.6L504.5 296.7L505.8 296.7L507.2 296.8L508.6 296.9L510.0 296.9L511.4 297.0L512.7 297.0L514.1 297.1L515.5 297.2L516.9 297.2L518.3 297.3L519.6 297.4L521.0 297.4L522.4 297.5" fill="none" stroke="#3a1cc8" stroke-width="1.6" stroke-dasharray="3.4 1.8"/>
<path d="M301.6 476.0L303.0 472.0L304.4 467.2L305.7 462.4L307.1 457.7L308.5 453.0L309.9 448.5L311.3 444.0L312.6 439.6L314.0 435.3L315.4 431.1L316.8 427.0L318.2 423.0L319.5 419.0L320.9 415.2L322.3 411.4L323.7 407.7L325.1 404.1L326.4 400.6L327.8 397.2L329.2 393.8L330.6 390.5L332.0 387.3L333.3 384.2L334.7 381.2L336.1 378.2L337.5 375.4L338.9 372.6L340.2 369.8L341.6 367.2L343.0 364.6L344.4 362.1L345.8 359.6L347.1 357.2L348.5 354.9L349.9 352.7L351.3 350.5L352.7 348.4L354.0 346.4L355.4 344.4L356.8 342.5L358.2 340.6L359.6 338.8L360.9 337.0L362.3 335.4L363.7 333.7L365.1 332.1L366.5 330.6L367.8 329.1L369.2 327.7L370.6 326.3L372.0 325.0L373.4 323.7L374.7 322.5L376.1 321.3L377.5 320.2L378.9 319.1L380.3 318.0L381.6 317.0L383.0 316.0L384.4 315.0L385.8 314.1L387.2 313.2L388.5 312.4L389.9 311.6L391.3 310.8L392.7 310.1L394.1 309.4L395.4 308.7L396.8 308.0L398.2 307.4L399.6 306.8L401.0 306.2L402.3 305.7L403.7 305.2L405.1 304.7L406.5 304.2L407.9 303.7L409.2 303.3L410.6 302.9L412.0 302.5L413.4 302.1L414.8 301.7L416.1 301.4L417.5 301.1L418.9 300.8L420.3 300.5L421.7 300.2L423.0 299.9L424.4 299.7L425.8 299.5L427.2 299.2L428.6 299.0L429.9 298.8L431.3 298.6L432.7 298.5L434.1 298.3L435.5 298.1L436.8 298.0L438.2 297.8L439.6 297.7L441.0 297.6L442.4 297.5L443.7 297.4L445.1 297.3L446.5 297.2L447.9 297.1L449.3 297.0L450.6 297.0L452.0 296.9L453.4 296.8L454.8 296.8L456.2 296.7L457.5 296.7L458.9 296.6L460.3 296.6L461.7 296.6L463.1 296.6L464.4 296.5L465.8 296.5L467.2 296.5L468.6 296.5L470.0 296.5L471.3 296.5L472.7 296.5L474.1 296.5L475.5 296.5L476.9 296.5L478.2 296.5L479.6 296.5L481.0 296.5L482.4 296.5L483.8 296.5L485.1 296.5L486.5 296.5L487.9 296.6L489.3 296.6L490.7 296.6L492.0 296.6L493.4 296.7L494.8 296.7L496.2 296.7L497.6 296.8L498.9 296.8L500.3 296.8L501.7 296.8L503.1 296.9L504.5 296.9L505.8 297.0L507.2 297.0L508.6 297.0L510.0 297.1L511.4 297.1L512.7 297.2L514.1 297.2L515.5 297.2L516.9 297.3L518.3 297.3L519.6 297.4L521.0 297.4L522.4 297.5" fill="none" stroke="#2414d8" stroke-width="1.9"/>
<path d="M301.6 476.0L303.0 473.4L304.4 469.6L305.7 465.7L307.1 461.7L308.5 457.8L309.9 454.0L311.3 450.1L312.6 446.3L314.0 442.5L315.4 438.8L316.8 435.1L318.2 431.5L319.5 427.9L320.9 424.3L322.3 420.8L323.7 417.4L325.1 414.0L326.4 410.6L327.8 407.3L329.2 404.1L330.6 400.9L332.0 397.7L333.3 394.7L334.7 391.7L336.1 388.7L337.5 385.8L338.9 383.0L340.2 380.2L341.6 377.5L343.0 374.8L344.4 372.2L345.8 369.7L347.1 367.2L348.5 364.8L349.9 362.4L351.3 360.1L352.7 357.9L354.0 355.7L355.4 353.6L356.8 351.5L358.2 349.5L359.6 347.5L360.9 345.6L362.3 343.8L363.7 342.0L365.1 340.3L366.5 338.6L367.8 337.0L369.2 335.4L370.6 333.8L372.0 332.4L373.4 330.9L374.7 329.5L376.1 328.2L377.5 326.9L378.9 325.6L380.3 324.4L381.6 323.3L383.0 322.1L384.4 321.1L385.8 320.0L387.2 319.0L388.5 318.0L389.9 317.1L391.3 316.2L392.7 315.3L394.1 314.5L395.4 313.7L396.8 312.9L398.2 312.2L399.6 311.5L401.0 310.8L402.3 310.1L403.7 309.5L405.1 308.9L406.5 308.3L407.9 307.8L409.2 307.3L410.6 306.8L412.0 306.3L413.4 305.8L414.8 305.4L416.1 304.9L417.5 304.5L418.9 304.2L420.3 303.8L421.7 303.4L423.0 303.1L424.4 302.8L425.8 302.5L427.2 302.2L428.6 301.9L429.9 301.6L431.3 301.4L432.7 301.2L434.1 300.9L435.5 300.7L436.8 300.5L438.2 300.3L439.6 300.1L441.0 300.0L442.4 299.8L443.7 299.6L445.1 299.5L446.5 299.3L447.9 299.2L449.3 299.1L450.6 299.0L452.0 298.9L453.4 298.7L454.8 298.6L456.2 298.6L457.5 298.5L458.9 298.4L460.3 298.3L461.7 298.2L463.1 298.2L464.4 298.1L465.8 298.0L467.2 298.0L468.6 297.9L470.0 297.9L471.3 297.8L472.7 297.8L474.1 297.7L475.5 297.7L476.9 297.7L478.2 297.6L479.6 297.6L481.0 297.6L482.4 297.6L483.8 297.5L485.1 297.5L486.5 297.5L487.9 297.5L489.3 297.5L490.7 297.5L492.0 297.4L493.4 297.4L494.8 297.4L496.2 297.4L497.6 297.4L498.9 297.4L500.3 297.4L501.7 297.4L503.1 297.4L504.5 297.4L505.8 297.4L507.2 297.4L508.6 297.4L510.0 297.4L511.4 297.4L512.7 297.4L514.1 297.4L515.5 297.4L516.9 297.4L518.3 297.5L519.6 297.5L521.0 297.5L522.4 297.5" fill="none" stroke="#000" stroke-width="1.6" stroke-dasharray="3.4 1.8"/>
<path d="M301.6 476.0L303.0 474.1L304.4 470.8L305.7 467.3L307.1 463.8L308.5 460.2L309.9 456.7L311.3 453.2L312.6 449.7L314.0 446.1L315.4 442.6L316.8 439.2L318.2 435.7L319.5 432.3L320.9 428.9L322.3 425.5L323.7 422.2L325.1 418.9L326.4 415.6L327.8 412.4L329.2 409.2L330.6 406.0L332.0 402.9L333.3 399.9L334.7 396.9L336.1 393.9L337.5 391.0L338.9 388.2L340.2 385.4L341.6 382.6L343.0 379.9L344.4 377.3L345.8 374.7L347.1 372.2L348.5 369.7L349.9 367.3L351.3 364.9L352.7 362.6L354.0 360.4L355.4 358.2L356.8 356.0L358.2 353.9L359.6 351.9L360.9 349.9L362.3 348.0L363.7 346.2L365.1 344.3L366.5 342.6L367.8 340.9L369.2 339.2L370.6 337.6L372.0 336.0L373.4 334.5L374.7 333.1L376.1 331.6L377.5 330.3L378.9 328.9L380.3 327.7L381.6 326.4L383.0 325.2L384.4 324.1L385.8 323.0L387.2 321.9L388.5 320.8L389.9 319.9L391.3 318.9L392.7 318.0L394.1 317.1L395.4 316.2L396.8 315.4L398.2 314.6L399.6 313.8L401.0 313.1L402.3 312.4L403.7 311.7L405.1 311.1L406.5 310.4L407.9 309.8L409.2 309.3L410.6 308.7L412.0 308.2L413.4 307.7L414.8 307.2L416.1 306.7L417.5 306.3L418.9 305.9L420.3 305.4L421.7 305.1L423.0 304.7L424.4 304.3L425.8 304.0L427.2 303.7L428.6 303.4L429.9 303.1L431.3 302.8L432.7 302.5L434.1 302.3L435.5 302.0L436.8 301.8L438.2 301.6L439.6 301.3L441.0 301.1L442.4 300.9L443.7 300.8L445.1 300.6L446.5 300.4L447.9 300.3L449.3 300.1L450.6 300.0L452.0 299.8L453.4 299.7L454.8 299.6L456.2 299.5L457.5 299.4L458.9 299.2L460.3 299.1L461.7 299.1L463.1 299.0L464.4 298.9L465.8 298.8L467.2 298.7L468.6 298.6L470.0 298.6L471.3 298.5L472.7 298.4L474.1 298.4L475.5 298.3L476.9 298.3L478.2 298.2L479.6 298.2L481.0 298.1L482.4 298.1L483.8 298.0L485.1 298.0L486.5 298.0L487.9 297.9L489.3 297.9L490.7 297.9L492.0 297.8L493.4 297.8L494.8 297.8L496.2 297.8L497.6 297.7L498.9 297.7L500.3 297.7L501.7 297.7L503.1 297.7L504.5 297.6L505.8 297.6L507.2 297.6L508.6 297.6L510.0 297.6L511.4 297.6L512.7 297.6L514.1 297.5L515.5 297.5L516.9 297.5L518.3 297.5L519.6 297.5L521.0 297.5L522.4 297.5" fill="none" stroke="#000" stroke-width="1.9"/>
<g stroke="#505050" stroke-width="1.25"><line x1="297.0" y1="499.7" x2="527.0" y2="499.7"/><line x1="301.6" y1="286.8" x2="301.6" y2="505.7"/><line x1="312.6" y1="499.7" x2="312.6" y2="497.7"/><line x1="323.7" y1="499.7" x2="323.7" y2="497.7"/><line x1="334.7" y1="499.7" x2="334.7" y2="497.7"/><line x1="345.8" y1="499.7" x2="345.8" y2="497.7"/><line x1="356.8" y1="499.7" x2="356.8" y2="496.2"/><line x1="367.8" y1="499.7" x2="367.8" y2="497.7"/><line x1="378.9" y1="499.7" x2="378.9" y2="497.7"/><line x1="389.9" y1="499.7" x2="389.9" y2="497.7"/><line x1="401.0" y1="499.7" x2="401.0" y2="497.7"/><line x1="412.0" y1="499.7" x2="412.0" y2="496.2"/><line x1="423.0" y1="499.7" x2="423.0" y2="497.7"/><line x1="434.1" y1="499.7" x2="434.1" y2="497.7"/><line x1="445.1" y1="499.7" x2="445.1" y2="497.7"/><line x1="456.2" y1="499.7" x2="456.2" y2="497.7"/><line x1="467.2" y1="499.7" x2="467.2" y2="496.2"/><line x1="478.2" y1="499.7" x2="478.2" y2="497.7"/><line x1="489.3" y1="499.7" x2="489.3" y2="497.7"/><line x1="500.3" y1="499.7" x2="500.3" y2="497.7"/><line x1="511.4" y1="499.7" x2="511.4" y2="497.7"/><line x1="522.4" y1="499.7" x2="522.4" y2="496.2"/><line x1="301.6" y1="487.6" x2="303.6" y2="487.6"/><line x1="301.6" y1="476.0" x2="305.1" y2="476.0"/><line x1="301.6" y1="464.4" x2="303.6" y2="464.4"/><line x1="301.6" y1="452.8" x2="303.6" y2="452.8"/><line x1="301.6" y1="441.2" x2="303.6" y2="441.2"/><line x1="301.6" y1="429.6" x2="303.6" y2="429.6"/><line x1="301.6" y1="417.9" x2="305.1" y2="417.9"/><line x1="301.6" y1="406.3" x2="303.6" y2="406.3"/><line x1="301.6" y1="394.7" x2="303.6" y2="394.7"/><line x1="301.6" y1="383.1" x2="303.6" y2="383.1"/><line x1="301.6" y1="371.5" x2="303.6" y2="371.5"/><line x1="301.6" y1="359.9" x2="305.1" y2="359.9"/><line x1="301.6" y1="348.3" x2="303.6" y2="348.3"/><line x1="301.6" y1="336.7" x2="303.6" y2="336.7"/><line x1="301.6" y1="325.1" x2="303.6" y2="325.1"/><line x1="301.6" y1="313.5" x2="303.6" y2="313.5"/><line x1="301.6" y1="301.9" x2="305.1" y2="301.9"/></g>
<text transform="matrix(0.1724,0,0,0.2581,30.44,46.14)" font-size="64" text-anchor="end" fill="#262626" stroke="#262626" stroke-width="1.6">1.0</text>
<text transform="matrix(0.1724,0,0,0.2581,30.44,105.24)" font-size="64" text-anchor="end" fill="#262626" stroke="#262626" stroke-width="1.6">0.5</text>
<text transform="matrix(0.1724,0,0,0.2581,30.44,164.34)" font-size="64" text-anchor="end" fill="#262626" stroke="#262626" stroke-width="1.6">0.0</text>
<text transform="matrix(0.1724,0,0,0.2581,30.44,223.44)" font-size="64" text-anchor="end" fill="#262626" stroke="#262626" stroke-width="1.6">−0.5</text>
<text transform="matrix(0.1800,0,0,0.2500,86.90,258.70)" font-size="64" text-anchor="middle" fill="#262626" stroke="#262626" stroke-width="1.6">1</text>
<text transform="matrix(0.1800,0,0,0.2500,142.20,258.70)" font-size="64" text-anchor="middle" fill="#262626" stroke="#262626" stroke-width="1.6">2</text>
<text transform="matrix(0.1800,0,0,0.2500,197.50,258.70)" font-size="64" text-anchor="middle" fill="#262626" stroke="#262626" stroke-width="1.6">3</text>
<text transform="matrix(0.1800,0,0,0.2500,252.80,258.70)" font-size="64" text-anchor="middle" fill="#262626" stroke="#262626" stroke-width="1.6">4</text>
<text transform="matrix(0.1812,0,0,0.2475,19.62,20.94)" font-size="64" text-anchor="start" fill="#2a2a2a" stroke="#2a2a2a" stroke-width="1.6"><tspan font-style="italic">f</tspan> ′( <tspan font-style="italic">η</tspan>)</text>
<text transform="matrix(0.2000,0,0,0.2636,260.50,247.91)" font-size="64" text-anchor="start" fill="#2a2a2a" stroke="#2a2a2a" stroke-width="1.6" font-style="italic">η</text>
<text transform="matrix(0.1826,0,0,0.2404,61.15,82.28)" font-size="64" text-anchor="start" fill="#505050" stroke="#505050" stroke-width="1.6">(<tspan font-style="italic">a</tspan>)</text>
<text transform="matrix(0.1658,0,0,0.2465,304.63,48.80)" font-size="64" text-anchor="end" fill="#262626" stroke="#262626" stroke-width="1.6">1.0</text>
<text transform="matrix(0.1658,0,0,0.2465,304.63,105.55)" font-size="64" text-anchor="end" fill="#262626" stroke="#262626" stroke-width="1.6">0.5</text>
<text transform="matrix(0.1658,0,0,0.2465,304.63,162.30)" font-size="64" text-anchor="end" fill="#262626" stroke="#262626" stroke-width="1.6">0.0</text>
<text transform="matrix(0.1658,0,0,0.2465,304.63,219.05)" font-size="64" text-anchor="end" fill="#262626" stroke="#262626" stroke-width="1.6">−0.5</text>
<text transform="matrix(0.1700,0,0,0.2500,358.00,251.90)" font-size="64" text-anchor="middle" fill="#262626" stroke="#262626" stroke-width="1.6">1</text>
<text transform="matrix(0.1700,0,0,0.2500,410.65,251.90)" font-size="64" text-anchor="middle" fill="#262626" stroke="#262626" stroke-width="1.6">2</text>
<text transform="matrix(0.1700,0,0,0.2500,463.30,251.90)" font-size="64" text-anchor="middle" fill="#262626" stroke="#262626" stroke-width="1.6">3</text>
<text transform="matrix(0.1700,0,0,0.2500,515.95,251.90)" font-size="64" text-anchor="middle" fill="#262626" stroke="#262626" stroke-width="1.6">4</text>
<text transform="matrix(0.1820,0,0,0.2525,293.82,25.76)" font-size="64" text-anchor="start" fill="#2a2a2a" stroke="#2a2a2a" stroke-width="1.6"><tspan font-style="italic">f</tspan> ′( <tspan font-style="italic">η</tspan>)</text>
<text transform="matrix(0.1815,0,0,0.2455,523.54,241.36)" font-size="64" text-anchor="start" fill="#2a2a2a" stroke="#2a2a2a" stroke-width="1.6" font-style="italic">η</text>
<text transform="matrix(0.1580,0,0,0.2276,333.73,85.74)" font-size="64" text-anchor="start" fill="#505050" stroke="#505050" stroke-width="1.6">(<tspan font-style="italic">b</tspan>)</text>
<text transform="matrix(0.1763,0,0,0.2558,30.75,302.19)" font-size="64" text-anchor="end" fill="#262626" stroke="#262626" stroke-width="1.6">1.0</text>
<text transform="matrix(0.1763,0,0,0.2558,30.75,361.84)" font-size="64" text-anchor="end" fill="#262626" stroke="#262626" stroke-width="1.6">0.5</text>
<text transform="matrix(0.1763,0,0,0.2558,30.75,421.49)" font-size="64" text-anchor="end" fill="#262626" stroke="#262626" stroke-width="1.6">0.0</text>
<text transform="matrix(0.1763,0,0,0.2558,30.75,481.14)" font-size="64" text-anchor="end" fill="#262626" stroke="#262626" stroke-width="1.6">−0.5</text>
<text transform="matrix(0.1800,0,0,0.2476,86.70,516.00)" font-size="64" text-anchor="middle" fill="#262626" stroke="#262626" stroke-width="1.6">1</text>
<text transform="matrix(0.1800,0,0,0.2476,142.00,516.00)" font-size="64" text-anchor="middle" fill="#262626" stroke="#262626" stroke-width="1.6">2</text>
<text transform="matrix(0.1800,0,0,0.2476,197.30,516.00)" font-size="64" text-anchor="middle" fill="#262626" stroke="#262626" stroke-width="1.6">3</text>
<text transform="matrix(0.1800,0,0,0.2476,252.60,516.00)" font-size="64" text-anchor="middle" fill="#262626" stroke="#262626" stroke-width="1.6">4</text>
<text transform="matrix(0.1836,0,0,0.2576,19.62,278.09)" font-size="64" text-anchor="start" fill="#2a2a2a" stroke="#2a2a2a" stroke-width="1.6"><tspan font-style="italic">f</tspan> ′( <tspan font-style="italic">η</tspan>)</text>
<text transform="matrix(0.2037,0,0,0.2773,260.39,504.72)" font-size="64" text-anchor="start" fill="#2a2a2a" stroke="#2a2a2a" stroke-width="1.6" font-style="italic">η</text>
<text transform="matrix(0.1800,0,0,0.2368,51.06,324.12)" font-size="64" text-anchor="start" fill="#505050" stroke="#505050" stroke-width="1.6">(<tspan font-style="italic">c</tspan>)</text>
<text transform="matrix(0.1724,0,0,0.2605,300.64,306.99)" font-size="64" text-anchor="end" fill="#262626" stroke="#262626" stroke-width="1.6">1.0</text>
<text transform="matrix(0.1724,0,0,0.2605,300.64,365.04)" font-size="64" text-anchor="end" fill="#262626" stroke="#262626" stroke-width="1.6">0.5</text>
<text transform="matrix(0.1724,0,0,0.2605,300.64,423.09)" font-size="64" text-anchor="end" fill="#262626" stroke="#262626" stroke-width="1.6">0.0</text>
<text transform="matrix(0.1724,0,0,0.2605,300.64,481.14)" font-size="64" text-anchor="end" fill="#262626" stroke="#262626" stroke-width="1.6">−0.5</text>
<text transform="matrix(0.1800,0,0,0.2333,357.10,516.00)" font-size="64" text-anchor="middle" fill="#262626" stroke="#262626" stroke-width="1.6">1</text>
<text transform="matrix(0.1800,0,0,0.2333,412.30,516.00)" font-size="64" text-anchor="middle" fill="#262626" stroke="#262626" stroke-width="1.6">2</text>
<text transform="matrix(0.1800,0,0,0.2333,467.50,516.00)" font-size="64" text-anchor="middle" fill="#262626" stroke="#262626" stroke-width="1.6">3</text>
<text transform="matrix(0.1800,0,0,0.2333,522.70,516.00)" font-size="64" text-anchor="middle" fill="#262626" stroke="#262626" stroke-width="1.6">4</text>
<text transform="matrix(0.1867,0,0,0.2576,289.51,278.09)" font-size="64" text-anchor="start" fill="#2a2a2a" stroke="#2a2a2a" stroke-width="1.6"><tspan font-style="italic">f</tspan> ′( <tspan font-style="italic">η</tspan>)</text>
<text transform="matrix(0.2222,0,0,0.2727,530.46,505.08)" font-size="64" text-anchor="start" fill="#2a2a2a" stroke="#2a2a2a" stroke-width="1.6" font-style="italic">η</text>
<text transform="matrix(0.1971,0,0,0.2448,318.51,324.12)" font-size="64" text-anchor="start" fill="#505050" stroke="#505050" stroke-width="1.6">(<tspan font-style="italic">d</tspan>)</text>
<text transform="matrix(0.1713,0,0,0.2216,116.89,150.01)" font-size="64" text-anchor="start" fill="#222" stroke="#222" stroke-width="1.6">Gr = 0.1, 0.3, 0.5.</text>
<text transform="matrix(0.1806,0,0,0.2093,117.84,175.69)" font-size="64" text-anchor="start" fill="#222" stroke="#222" stroke-width="1.6"><tspan font-style="italic">c</tspan> = −0.5.</text>
<text transform="matrix(0.1707,0,0,0.2275,381.67,139.65)" font-size="64" text-anchor="start" fill="#222" stroke="#222" stroke-width="1.6"><tspan font-style="italic">M</tspan> = 1, 3, 5.</text>
<text transform="matrix(0.1716,0,0,0.2186,408.86,157.48)" font-size="64" text-anchor="start" fill="#222" stroke="#222" stroke-width="1.6"><tspan font-style="italic">c</tspan> = −0.5.</text>
<text transform="matrix(0.1744,0,0,0.2305,93.13,407.47)" font-size="64" text-anchor="start" fill="#222" stroke="#222" stroke-width="1.6"><tspan font-style="italic">ϕ</tspan><tspan font-size="68%" dy="0.28em">1</tspan><tspan dy="-0.19em"> + </tspan><tspan font-style="italic">ϕ</tspan><tspan font-size="68%" dy="0.28em">2</tspan><tspan dy="-0.19em"> = 0.01, 0.03, 0.05.</tspan></text>
<text transform="matrix(0.1721,0,0,0.2023,83.46,426.30)" font-size="64" text-anchor="start" fill="#222" stroke="#222" stroke-width="1.6"><tspan font-style="italic">c</tspan> = −0.5.</text>
<text transform="matrix(0.1741,0,0,0.2314,371.33,397.92)" font-size="64" text-anchor="start" fill="#222" stroke="#222" stroke-width="1.6">Λ = 0.1, 0.3, 0.5.</text>
<text transform="matrix(0.1757,0,0,0.1977,355.15,426.50)" font-size="64" text-anchor="start" fill="#222" stroke="#222" stroke-width="1.6"><tspan font-style="italic">c</tspan> = −0.5.</text>
<line x1="142" y1="83.1" x2="173.7" y2="83.1" stroke="#2a18c0" stroke-width="2.2"/>
<line x1="142" y1="104.5" x2="173.7" y2="104.5" stroke="#8a5a2a" stroke-width="1.8" stroke-dasharray="3 1.5"/>
<line x1="407" y1="83" x2="437" y2="83" stroke="#2a18c0" stroke-width="2.2"/>
<line x1="407" y1="103.6" x2="437" y2="103.6" stroke="#8a5a2a" stroke-width="1.8" stroke-dasharray="3 1.5"/>
<line x1="155" y1="330" x2="186" y2="330" stroke="#2414d0" stroke-width="2.2"/>
<line x1="155" y1="347.6" x2="186" y2="347.6" stroke="#c040e0" stroke-width="1.6" stroke-dasharray="3 1.5"/>
<line x1="416.4" y1="342.5" x2="448.0" y2="342.5" stroke="#2414d0" stroke-width="2.2"/>
<line x1="416.4" y1="363.7" x2="448.0" y2="363.7" stroke="#c040e0" stroke-width="1.6" stroke-dasharray="3 1.5"/>
<text transform="matrix(0.1681,0,0,0.2517,179.27,86.47)" font-size="64" text-anchor="start" fill="#3636b0" stroke="#3636b0" stroke-width="1.6"><tspan font-style="italic">EG</tspan> +Ti <tspan font-style="italic">O</tspan><tspan font-size="68%" dy="0.28em">2,</tspan></text>
<text transform="matrix(0.1745,0,0,0.2350,176.97,108.27)" font-size="64" text-anchor="start" fill="#3636b0" stroke="#3636b0" stroke-width="1.6"><tspan font-style="italic">H</tspan><tspan font-size="68%" dy="0.28em">2</tspan><tspan dy="-0.19em"> </tspan><tspan font-style="italic">O</tspan> +<tspan font-style="italic">Ti O</tspan><tspan font-size="68%" dy="0.28em">2,</tspan></text>
<text transform="matrix(0.1596,0,0,0.2167,441.86,87.60)" font-size="64" text-anchor="start" fill="#3a3ac8" stroke="#3a3ac8" stroke-width="1.6"><tspan font-style="italic">EG</tspan> +Ti <tspan font-style="italic">O</tspan><tspan font-size="68%" dy="0.28em">2,</tspan></text>
<text transform="matrix(0.1637,0,0,0.2067,440.66,107.28)" font-size="64" text-anchor="start" fill="#3a3ac8" stroke="#3a3ac8" stroke-width="1.6"><tspan font-style="italic">H</tspan><tspan font-size="68%" dy="0.28em">2</tspan><tspan dy="-0.19em"> </tspan><tspan font-style="italic">O</tspan> +<tspan font-style="italic">Ti O</tspan><tspan font-size="68%" dy="0.28em">2,</tspan></text>
<text transform="matrix(0.1702,0,0,0.2097,187.19,334.93)" font-size="64" text-anchor="start" fill="#282828" stroke="#282828" stroke-width="1.6"><tspan fill="#3434d0">Cu</tspan> <tspan fill="#4a40b0">+</tspan>Al<tspan font-size="68%" dy="0.28em">2</tspan><tspan dy="-0.19em"> </tspan><tspan font-style="italic">O</tspan><tspan font-size="68%" dy="0.28em">3,</tspan></text>
<text transform="matrix(0.1700,0,0,0.2367,187.19,354.54)" font-size="64" text-anchor="start" fill="#282828" stroke="#282828" stroke-width="1.6">Cu<tspan font-size="68%" dy="0.28em">,</tspan></text>
<text transform="matrix(0.1722,0,0,0.2097,454.18,350.13)" font-size="64" text-anchor="start" fill="#282828" stroke="#282828" stroke-width="1.6"><tspan fill="#3434d0">Cu +</tspan>Al<tspan font-size="68%" dy="0.28em">2</tspan><tspan dy="-0.19em"> </tspan><tspan font-style="italic">O</tspan><tspan font-size="68%" dy="0.28em">3,</tspan></text>
<text transform="matrix(0.1775,0,0,0.2367,453.57,369.74)" font-size="64" text-anchor="start" fill="#282828" stroke="#282828" stroke-width="1.6">Cu<tspan font-size="68%" dy="0.28em">,</tspan></text>
<path d="M35 207.6 L70 207.6" stroke="#f050d0" stroke-width="1.3" stroke-dasharray="3.5 2" fill="none"/>
<path d="M33 216.4 L54 216.4" stroke="#f070d8" stroke-width="1.1" stroke-dasharray="3.5 2" fill="none"/>
<line x1="90.7" y1="144.6" x2="81.5" y2="92" stroke="#a8d890" stroke-width="1.2"/>
<polygon points="78.2,82.7 79.3,96.4 84.3,94.1" fill="#5fba2f"/>
<line x1="381.7" y1="51.6" x2="381.7" y2="112" stroke="#a8e090" stroke-width="1.2"/>
<polygon points="378.4,111.5 385,111.5 381.7,125.7" fill="#5fd02f"/>
<line x1="97.9" y1="318.9" x2="100.3" y2="373" stroke="#6a4aa0" stroke-width="1.1"/>
<polygon points="98.0,372.1 103.3,372.1 100.8,386.6" fill="#5a2a90"/>
<line x1="355.6" y1="313.6" x2="366" y2="362" stroke="#888" stroke-width="1.1"/>
<polygon points="363.6,362.8 369.2,360.4 369.4,375.1" fill="#111"/>
</svg>
</body></html>
